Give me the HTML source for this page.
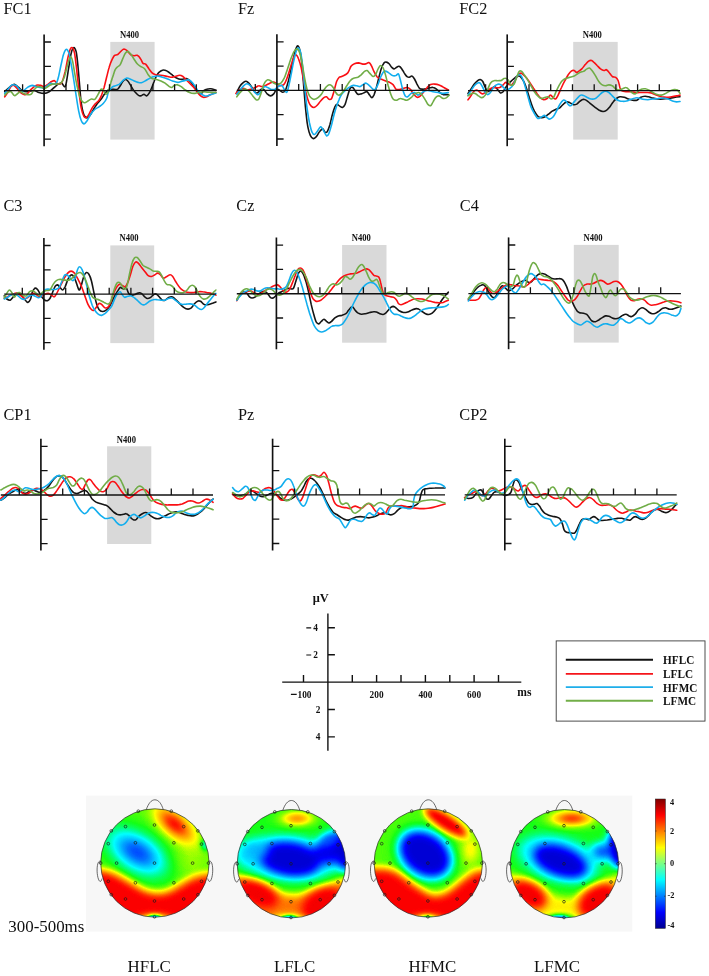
<!DOCTYPE html>
<html><head><meta charset="utf-8"><title>ERP figure</title>
<style>
html,body{margin:0;padding:0;background:#fff}
body{width:709px;height:976px;overflow:hidden;position:relative;font-family:"Liberation Serif",serif}
svg{will-change:transform;position:absolute;left:0;top:0;display:block}
text{font-family:"Liberation Serif",serif;fill:#111}
.lab{font-size:17.6px}
.n4{font-size:9.3px;font-weight:bold}
.ax{font-size:9.3px;font-weight:bold}
.leg{font-size:11.9px;font-weight:bold}
.cb{font-size:8.3px;font-weight:bold}
.bot{font-size:17.7px}
</style></head><body>
<svg width="709" height="976" viewBox="0 0 709 976">
<rect x="110.3" y="41.9" width="44.3" height="97.7" fill="#d9d9d9"/>
<rect x="573.2" y="41.9" width="44.5" height="97.7" fill="#d9d9d9"/>
<rect x="110.3" y="245.4" width="43.9" height="97.7" fill="#d9d9d9"/>
<rect x="342.1" y="245" width="44.4" height="97.7" fill="#d9d9d9"/>
<rect x="573.8" y="244.9" width="44.9" height="97.7" fill="#d9d9d9"/>
<rect x="107.1" y="446.3" width="44.2" height="97.7" fill="#d9d9d9"/>
<path d="M4.7 91.7C5.6 90.9 8.5 87.8 10.2 86.6C11.8 85.4 13 84.3 14.4 84.4C15.8 84.6 17.3 86.5 18.6 87.5C19.9 88.5 20.7 89.8 22 90.5C23.3 91.2 24.3 91.7 26.2 91.7C28.2 91.7 31.7 90.4 33.9 90.5C36 90.7 37.2 92.1 38.9 92.5C40.7 93 42.7 93.5 44.3 93.4C46 93.3 47.4 92.7 49.1 91.7C50.7 90.7 52.6 88.7 54.2 87.5C55.7 86.2 57.1 84.8 58.4 84.1C59.7 83.4 60.8 82.8 61.8 83.2C62.8 83.7 63.6 86.5 64.3 86.6C65 86.8 65.3 87 66 84.1C66.7 81.1 67.7 73.9 68.5 68.9C69.4 63.8 70.2 57.1 71.1 53.6C71.9 50.1 72.8 48 73.6 47.7C74.5 47.4 75.5 49 76.2 51.9C76.9 54.9 77.3 60.1 77.9 65.5C78.4 70.8 79 77.9 79.5 84.1C80.1 90.3 80.5 97.6 81.2 102.7C81.9 107.8 82.8 112 83.8 114.5C84.8 117.1 86 117.9 87.2 117.9C88.3 117.9 89.4 116.1 90.6 114.5C91.7 113 92.8 110.5 93.9 108.6C95.1 106.8 96.1 105.2 97.3 103.5C98.6 101.9 100.3 100.2 101.6 98.5C102.8 96.8 103.8 94.8 104.9 93.4C106.1 92 107.2 90.7 108.3 90C109.4 89.3 110.6 89.2 111.7 89.2C112.8 89.1 114.2 89.5 115.2 89.5C116.2 89.5 116.8 89.8 117.7 89.2C118.5 88.5 119.4 87 120.2 85.8C121.1 84.5 121.9 82.6 122.8 81.5C123.6 80.5 124.5 79.6 125.3 79.5C126.2 79.4 127 80.1 127.8 81C128.7 81.9 129.5 83.6 130.4 84.9C131.2 86.3 132.1 87.9 132.9 89.2C133.8 90.4 134.5 91.5 135.5 92.5C136.5 93.6 137.9 95.1 138.9 95.6C139.8 96.1 140.5 95.8 141.4 95.6C142.2 95.4 143.1 94.2 143.9 94.2C144.8 94.3 145.6 96.1 146.5 95.9C147.3 95.8 148.2 94.7 149 93.4C149.9 92.1 150.7 90.3 151.5 88.3C152.4 86.3 153.2 83.7 154.1 81.5C154.9 79.4 155.8 77.2 156.6 75.6C157.5 74.1 158.2 73.1 159.2 72.2C160.1 71.3 161.4 70.5 162.5 70.2C163.7 69.9 164.8 70.1 165.9 70.5C167.1 70.9 168.2 71.8 169.3 72.6C170.4 73.4 171.6 74.4 172.7 75.3C173.8 76.1 174.8 77 176.1 77.7C177.4 78.3 179 79.1 180.3 79.3C181.6 79.6 182.6 79.1 183.7 79C184.8 78.9 186.1 78.4 187.1 78.7C188.1 78.9 188.6 79.7 189.6 80.7C190.6 81.7 191.9 83.4 193 84.9C194.1 86.5 195.4 88.6 196.4 90C197.4 91.4 198.1 92.8 198.9 93.4C199.8 94 200.6 93.9 201.5 93.4C202.3 92.9 203.2 91.2 204 90.5C204.9 89.8 205.4 89.4 206.6 89.2C207.7 88.9 209.2 88.7 210.8 88.8C212.3 89 215 89.8 215.9 90" fill="none" stroke="#151515" stroke-width="1.6" stroke-linejoin="round" stroke-linecap="round"/>
<path d="M4.7 96.8C5.2 96.1 6.6 94.2 7.6 92.5C8.7 90.9 10 87.8 11 86.6C12 85.4 12.6 85 13.5 85.3C14.5 85.6 15.8 87.1 16.9 88.3C18.1 89.5 19 91.5 20.3 92.5C21.6 93.6 23.4 94.4 24.5 94.6C25.7 94.8 26 94.8 27.1 93.9C28.2 93 29.8 90.6 31.3 89.2C32.9 87.7 34.8 85.9 36.4 85.3C37.9 84.6 39.3 85.2 40.6 85.4C41.9 85.7 43.1 86.8 44.3 86.6C45.6 86.4 47 84.9 48.2 84.1C49.4 83.2 50.6 82.1 51.6 81.5C52.7 81 53.7 80.4 54.5 80.7C55.3 81 55.8 82.7 56.7 83.2C57.6 83.8 59.1 84.5 60.1 84.1C61.1 83.7 61.8 82.8 62.6 80.7C63.5 78.6 64.3 75.1 65.2 71.4C66 67.7 66.9 62.4 67.7 58.7C68.5 55 69.4 51.2 70.2 49.4C71 47.6 71.7 47.1 72.4 47.7C73.1 48.3 73.9 49.8 74.5 52.8C75.1 55.7 75.6 60.8 76.2 65.5C76.7 70.1 77.3 75.6 77.9 80.7C78.4 85.8 79 91.4 79.5 95.9C80.1 100.4 80.5 104.4 81.2 107.8C81.9 111.2 82.9 114.6 83.8 116.2C84.6 117.9 85.5 117.9 86.3 117.6C87.2 117.3 87.9 116.2 88.9 114.5C89.8 112.9 91.1 109.6 92.2 107.8C93.4 105.9 94.5 104.8 95.6 103.5C96.8 102.3 98 101.6 99 100.2C100 98.8 100.7 97.2 101.6 95.1C102.4 93 103.2 90.4 104.1 87.5C104.9 84.5 105.8 80.7 106.6 77.3C107.5 73.9 108.3 70 109.2 67.2C110 64.3 110.8 62.3 111.7 60.4C112.6 58.5 113.3 56.6 114.3 55.6C115.3 54.7 116.6 55.2 117.7 54.5C118.8 53.7 120 52 121.1 51.1C122.1 50.2 123 49.1 124 49C124.9 49 125.9 49.7 127 50.6C128.1 51.5 129.3 53.6 130.4 54.5C131.5 55.3 132.6 55.7 133.8 55.8C134.9 56 136 54.8 137.2 55.3C138.3 55.8 139.6 57.3 140.5 58.7C141.5 60 142.2 62.5 143.1 63.4C143.9 64.3 144.6 63.2 145.6 64.1C146.6 65 147.9 67.4 149 68.9C150.1 70.3 151.3 72.1 152.4 73.1C153.5 74.1 154.4 74.4 155.8 74.8C157.2 75.1 159.2 75.1 160.9 75.3C162.5 75.5 164.2 75.8 165.9 76.1C167.6 76.5 169.5 77.3 171 77.3C172.6 77.4 173.8 76.8 175.2 76.5C176.7 76.1 178.2 75.3 179.5 75.3C180.7 75.3 181.7 75.7 182.9 76.5C184 77.2 185.1 78.7 186.2 79.9C187.4 81 188.5 82.1 189.6 83.2C190.8 84.4 191.9 85.4 193 86.6C194.1 87.9 195.3 89.4 196.4 90.9C197.5 92.3 198.7 94 199.8 95.1C200.9 96.2 202 97 203.2 97.3C204.3 97.6 205.3 97.2 206.6 96.8C207.8 96.3 209.2 95.3 210.8 94.6C212.3 93.9 215 92.9 215.9 92.5" fill="none" stroke="#fa0f14" stroke-width="1.6" stroke-linejoin="round" stroke-linecap="round"/>
<path d="M4.7 93.4C5.4 92.6 7.3 90.2 8.5 88.8C9.6 87.4 10.6 85.7 11.8 85.1C13.1 84.5 14.8 84.8 16.1 85.4C17.3 86.1 18.3 88.3 19.5 89.2C20.6 90.1 21.4 91.2 22.8 90.9C24.3 90.5 26.4 88 27.9 87.1C29.5 86.2 30.7 85.5 32.2 85.4C33.6 85.4 34.8 86.2 36.4 86.6C37.9 87 40.1 87.6 41.5 87.8C42.8 88 43.2 88.3 44.3 87.8C45.5 87.3 47.2 85.7 48.2 84.9C49.3 84.2 49.8 83.4 50.8 83.2C51.8 83.1 53.2 84.2 54.2 84.1C55.1 83.9 56 83.5 56.7 82.4C57.4 81.3 57.7 80.1 58.4 77.3C59.1 74.5 60.1 69.3 60.9 65.5C61.8 61.7 62.6 57.1 63.5 54.5C64.4 51.8 65.4 49.5 66.3 49.4C67.3 49.2 68.3 51.2 69.1 53.6C69.8 56 70.3 59.5 71.1 63.8C71.8 68 72.8 73.6 73.6 79C74.5 84.4 75.3 90.6 76.2 95.9C77 101.3 77.9 107.1 78.7 111.2C79.5 115.3 80.3 118.4 81.2 120.5C82.1 122.6 83.1 123.9 84.1 123.9C85.1 123.9 86.1 122 87.2 120.5C88.2 118.9 89.3 116.4 90.6 114.5C91.8 112.7 93.4 110.7 94.8 109.5C96.2 108.2 97.6 107.9 99 106.9C100.4 105.9 102 105 103.2 103.5C104.5 102.1 105.8 100.3 106.6 98.5C107.5 96.6 107.5 94.4 108.3 92.5C109.2 90.7 110.6 88.6 111.7 87.5C112.8 86.3 113.9 86.3 115.2 85.8C116.4 85.2 118.1 84.9 119.4 84.1C120.7 83.2 121.6 81.7 122.8 80.7C123.9 79.7 125 78.5 126.2 78.2C127.3 77.8 128.3 78.2 129.5 78.7C130.8 79.1 132.4 80.1 133.8 80.7C135.2 81.3 136.7 82.1 138 82.4C139.3 82.7 140.1 83 141.4 82.7C142.7 82.4 144.2 81.5 145.6 80.7C147 79.9 148.4 78.9 149.9 78.2C151.3 77.5 152.7 76.8 154.1 76.5C155.5 76.1 156.9 76 158.3 76.1C159.7 76.3 161 76.8 162.5 77.3C164.1 77.8 165.9 78.4 167.6 79C169.3 79.6 171 80.5 172.7 81C174.4 81.6 176.2 82.4 177.8 82.4C179.3 82.4 180.7 81.5 182 81.2C183.3 80.9 184.3 80.6 185.4 80.4C186.5 80.1 187.8 79.7 188.8 79.9C189.8 80 190.3 80.6 191.3 81.5C192.3 82.5 193.6 84.2 194.7 85.8C195.8 87.3 197 89.4 198.1 90.9C199.2 92.3 200.3 93.4 201.5 94.2C202.6 95.1 203.7 95.7 204.9 95.9C206 96.2 207 95.9 208.2 95.6C209.5 95.3 211.2 94.4 212.5 93.9C213.7 93.4 215.3 93.1 215.9 92.9" fill="none" stroke="#12aeee" stroke-width="1.6" stroke-linejoin="round" stroke-linecap="round"/>
<path d="M4.7 95.1C5.2 94.7 6.6 93.1 7.6 92.5C8.7 92 9.9 91.2 11 91.7C12.1 92.2 13.4 95.2 14.4 95.6C15.4 96 15.9 94.9 16.9 94.2C17.9 93.6 19.2 91.8 20.3 91.7C21.4 91.6 22.4 92.9 23.7 93.4C25 93.9 26.7 94.4 27.9 94.6C29.2 94.7 30.3 95 31.3 94.2C32.3 93.5 32.7 91.3 33.9 90C35 88.7 36.7 87 38.1 86.6C39.5 86.2 41.3 87.1 42.3 87.5C43.4 87.8 43.2 89.1 44.3 88.8C45.5 88.5 47.7 86.6 49.1 85.8C50.4 85 51.2 84.4 52.5 84.1C53.7 83.8 55.3 84.2 56.7 84.1C58.1 83.9 59.7 84.4 60.9 83.2C62.2 82.1 63.3 80 64.3 77.3C65.3 74.6 66 70.3 66.9 67.2C67.7 64.1 68.7 60.4 69.4 58.7C70.1 57 70.5 56.4 71.1 57C71.7 57.6 72.2 59.5 72.8 62.1C73.3 64.6 73.8 68.3 74.5 72.2C75.2 76.2 76.2 81.8 77 85.8C77.9 89.7 78.7 93.3 79.5 95.9C80.4 98.5 81.2 100.2 82.1 101.3C82.9 102.5 83.6 102.8 84.6 102.7C85.6 102.6 86.9 101.6 88 101C89.1 100.4 90.3 99.3 91.4 99C92.5 98.7 93.7 100.1 94.8 99.3C95.9 98.5 97.2 95.9 98.2 94.2C99.2 92.6 99.9 90.2 100.7 89.5C101.6 88.8 102.4 89.2 103.2 90C104.1 90.8 104.9 94 105.8 94.2C106.6 94.5 107.5 93.7 108.3 91.7C109.2 89.7 110.1 84.8 110.9 82.4C111.6 80 111.9 79.4 112.6 77.3C113.3 75.2 114.3 71.4 115.2 69.7C116 67.9 116.8 67.7 117.7 66.8C118.5 66 119.4 66 120.2 64.6C121.1 63.3 121.9 60.6 122.8 58.7C123.6 56.8 124.5 54.5 125.3 53.3C126.2 52.1 127 51.4 127.8 51.4C128.7 51.5 129.4 52.4 130.4 53.6C131.4 54.8 132.6 57 133.8 58.7C134.9 60.4 136 62.5 137.2 63.8C138.3 65 139.3 65.5 140.5 66.3C141.8 67.2 143.5 67.4 144.8 68.9C146 70.3 147 73.2 148.2 74.8C149.3 76.3 150.3 77.4 151.5 78.2C152.8 78.9 154.2 78.9 155.8 79.3C157.3 79.8 159.3 80.4 160.9 81C162.4 81.7 163.7 82.3 165.1 83.2C166.5 84.2 168.2 85.9 169.3 86.6C170.4 87.3 171 87.7 171.9 87.5C172.7 87.2 173.4 85.7 174.4 85.3C175.4 84.8 176.7 84.7 177.8 84.9C178.9 85.2 179.9 85.8 181.2 86.6C182.4 87.5 184 89 185.4 90C186.8 91 188.2 92 189.6 92.5C191 93.1 192.4 93.4 193.9 93.4C195.3 93.4 196.5 92.8 198.1 92.5C199.6 92.3 201.5 91.8 203.2 91.7C204.9 91.6 206.1 92.1 208.2 92.2C210.4 92.3 214.6 92.5 215.9 92.5" fill="none" stroke="#70ad47" stroke-width="1.6" stroke-linejoin="round" stroke-linecap="round"/>
<path d="M236.8 92.5C237.3 91.4 239 87.5 240.2 85.8C241.3 84.1 242.6 83.2 243.5 82.4C244.5 81.6 245.2 81.1 246.1 81.2C246.9 81.3 247.6 81.9 248.6 82.9C249.6 83.9 250.9 85.9 252 87.5C253.1 89.1 254.4 91.7 255.4 92.5C256.4 93.4 256.9 93.1 257.9 92.5C258.9 92 260.3 89.7 261.3 89.2C262.3 88.7 262.9 88.7 263.9 89.5C264.8 90.3 266.1 92.8 267.2 93.9C268.4 95 269.5 95.9 270.6 95.9C271.7 95.9 272.7 95 273.7 93.9C274.7 92.8 275.6 89.8 276.5 89.2C277.4 88.5 278.1 89.5 279.1 90C280.1 90.5 281.5 92.1 282.5 92.2C283.5 92.3 284.2 92.2 285 90.9C285.9 89.5 286.7 86.9 287.5 84.1C288.4 81.3 289.2 77.6 290.1 73.9C290.9 70.3 291.8 65.9 292.6 62.1C293.5 58.3 294.4 53.8 295.2 51.1C296 48.4 296.7 46.4 297.4 46C298.1 45.6 298.8 46.7 299.4 48.5C300 50.4 300.5 52.8 301.1 57C301.7 61.2 302.2 67.4 302.8 73.9C303.3 80.4 303.9 89.2 304.5 95.9C305 102.7 305.6 109.3 306.2 114.5C306.7 119.8 307.2 123.7 307.9 127.2C308.6 130.8 309.5 133.8 310.4 135.7C311.3 137.6 312.3 138.4 313.3 138.6C314.3 138.7 315.2 137.7 316.3 136.6C317.4 135.4 318.6 132.7 319.7 131.5C320.8 130.2 321.8 128.8 322.8 128.9C323.7 129.1 324.4 131.9 325.1 132.3C325.9 132.7 326.5 132.7 327.3 131.5C328.1 130.2 329 127.5 329.9 124.7C330.7 121.9 331.6 117.5 332.4 114.5C333.2 111.6 334.2 108.6 334.9 106.9C335.7 105.2 336.2 104.5 337 104.4C337.8 104.3 338.7 105.6 339.7 106.1C340.6 106.6 341.7 107.7 342.6 107.4C343.5 107.2 344.2 106.3 345.1 104.4C345.9 102.5 346.8 98.6 347.6 95.9C348.5 93.3 349.3 89.7 350.2 88.3C351 86.9 351.8 87 352.7 87.5C353.5 87.9 354.4 89.7 355.2 90.9C356.1 92 356.8 93.7 357.8 94.2C358.8 94.7 360 94.2 361.2 93.9C362.3 93.6 363.6 92.9 364.5 92.5C365.5 92.2 366.2 91.3 367.1 91.7C367.9 92.1 368.8 94.1 369.6 95.1C370.4 96.1 371.1 97.6 371.8 97.6C372.5 97.6 373.1 96.8 373.9 95.1C374.6 93.4 375.5 90.4 376.4 87.5C377.2 84.5 378.1 80.6 378.9 77.3C379.8 74.1 380.6 70.4 381.5 68C382.3 65.6 383.2 63.9 384 62.9C384.9 61.9 385.7 61.9 386.5 62.1C387.4 62.2 388.2 62.9 389.1 63.8C389.9 64.6 390.8 66.3 391.6 67.2C392.5 68 393.3 68.9 394.2 68.9C395 68.9 395.9 67.6 396.7 67.2C397.5 66.7 398.4 66 399.2 66.3C400.1 66.6 400.9 67.7 401.8 68.9C402.6 70 403.5 71.8 404.3 73.1C405.2 74.4 406 75.8 406.9 76.5C407.7 77.2 408.5 77.4 409.4 77.3C410.2 77.2 411.1 75.7 411.9 76C412.8 76.2 413.6 77.7 414.5 79C415.3 80.4 416.2 82.5 417 84.1C417.9 85.6 418.6 87.5 419.5 88.3C420.5 89.2 421.8 89.1 422.9 89.2C424.1 89.2 425.2 89 426.3 88.8C427.4 88.6 428.6 88 429.7 87.8C430.8 87.6 432 87.2 433.1 87.5C434.2 87.7 435.3 88.3 436.5 89.2C437.6 90 438.7 91.6 439.9 92.5C441 93.4 441.8 94.2 443.2 94.6C444.7 94.9 447.5 94.6 448.3 94.6" fill="none" stroke="#151515" stroke-width="1.6" stroke-linejoin="round" stroke-linecap="round"/>
<path d="M235.9 93.4C236.5 92.8 238 90.9 239.3 90C240.6 89.2 242.3 88.3 243.5 88.3C244.8 88.3 245.7 89.9 246.9 90C248.2 90.1 249.7 89.6 251.2 89.2C252.6 88.7 254.1 88 255.4 87.5C256.7 86.9 257.6 85.9 258.8 85.8C259.9 85.6 261 86.7 262.2 86.6C263.3 86.6 264.3 86 265.5 85.4C266.8 84.9 268.4 83.8 269.8 83.2C271.2 82.7 272.7 81.9 274 82.1C275.3 82.2 276.3 83.5 277.4 84.1C278.5 84.7 279.6 85.8 280.8 85.8C281.9 85.8 283.2 85.2 284.2 84.1C285.1 83 285.9 81.1 286.7 79C287.5 76.9 288.4 74.1 289.2 71.4C290.1 68.7 290.9 65.5 291.8 62.9C292.6 60.4 293.6 57.5 294.3 56.2C295.1 54.8 295.6 54.5 296.3 55C297.1 55.4 297.8 56.7 298.5 58.7C299.3 60.7 300.2 63.5 301.1 67.2C301.9 70.8 302.8 76.3 303.6 80.7C304.5 85.1 305.3 89.9 306.2 93.4C307 96.9 307.9 99.7 308.7 101.9C309.5 104 310.3 105.2 311.2 106.1C312.1 107 313.1 107.6 314.1 107.4C315.1 107.3 316.1 106.3 317.2 105.2C318.2 104.2 319.4 102.3 320.6 101C321.7 99.7 322.9 98.3 323.9 97.6C324.9 96.9 325.6 96.5 326.5 96.8C327.3 97.1 328.2 99 329 99.3C329.9 99.6 330.7 99.9 331.6 98.5C332.4 97.1 333.2 93.7 334.1 90.9C334.9 88 335.8 83.8 336.6 81.5C337.5 79.3 338.3 78.2 339.2 77.3C340 76.5 340.3 77.2 341.7 76.5C343.1 75.8 346.1 74.8 347.6 73.1C349.2 71.4 349.9 67.9 351 66.3C352.1 64.8 353.1 64.3 354.4 63.8C355.7 63.2 357.2 62.9 358.6 62.9C360 63 361.6 64 362.8 64.1C364.1 64.3 365.2 64 366.2 63.8C367.2 63.5 367.9 62.3 368.8 62.6C369.6 62.9 370.5 64 371.3 65.5C372.2 66.9 372.9 69.5 373.9 71.4C374.8 73.3 376 75.6 377.2 77C378.5 78.3 380.1 78.7 381.5 79.3C382.9 80 384.3 80.5 385.7 81C387.1 81.5 388.7 81.7 389.9 82.4C391.2 83 392.3 83.8 393.3 84.9C394.3 86.1 394.9 88.4 395.9 89.2C396.8 89.9 398 89.6 399.2 89.5C400.5 89.4 402.2 88.7 403.5 88.3C404.7 88 405.7 87.3 406.9 87.5C408 87.6 409.1 88 410.2 89.2C411.4 90.3 412.5 92.9 413.6 94.2C414.8 95.6 415.9 97 417 97.3C418.1 97.6 419.3 96.9 420.4 95.9C421.5 95 422.7 93.1 423.8 91.7C424.9 90.3 426 88.7 427.2 87.5C428.3 86.3 429.3 85 430.6 84.4C431.8 83.9 433.4 84 434.8 84.1C436.2 84.2 437.6 84.4 439 84.9C440.4 85.4 441.7 86.3 443.2 87.1C444.8 88 447.5 89.5 448.3 90" fill="none" stroke="#fa0f14" stroke-width="1.6" stroke-linejoin="round" stroke-linecap="round"/>
<path d="M236.8 94.2C237.3 93.5 239 91.4 240.2 90C241.3 88.6 242.4 86.8 243.5 85.8C244.7 84.7 245.8 83.7 246.9 83.7C248.1 83.7 249.2 84.6 250.3 85.8C251.4 87 252.6 89.4 253.7 90.9C254.8 92.3 256.1 94.2 257.1 94.6C258.1 95 258.8 94.3 259.6 93.4C260.5 92.5 261.3 90.3 262.2 89.2C263 88 263.7 86.8 264.7 86.6C265.7 86.4 267 87.3 268.1 87.8C269.2 88.3 270.3 89.3 271.5 89.5C272.6 89.7 273.7 89.6 274.9 89.2C276 88.7 277.1 87.3 278.2 86.6C279.4 86 280.6 84.8 281.6 85.3C282.6 85.7 283.3 87.9 284.2 89.2C285 90.4 286 92.8 286.7 92.5C287.4 92.3 287.7 90.3 288.4 87.5C289.1 84.6 290.1 79.9 290.9 75.6C291.8 71.4 292.6 66 293.5 62.1C294.3 58.1 295.2 54.3 296 51.9C296.8 49.5 297.3 47.8 298 47.7C298.7 47.6 299.6 49 300.2 51.1C300.9 53.2 301.4 56.3 301.9 60.4C302.5 64.5 303.1 70.3 303.6 75.6C304.2 81 304.8 87.2 305.3 92.5C305.9 97.9 306.3 102.7 307 107.8C307.7 112.9 308.7 118.9 309.5 123C310.4 127.1 311.2 130.4 312.1 132.3C312.9 134.2 313.8 134.7 314.6 134.5C315.5 134.4 316.2 132.8 317.2 131.5C318.2 130.2 319.6 127 320.6 126.7C321.5 126.5 322.1 128.3 323.1 129.8C324.1 131.3 325.5 135.1 326.5 135.7C327.5 136.3 328.2 135 329 133.2C329.9 131.3 330.7 127.8 331.6 124.7C332.4 121.6 333.2 117.7 334.1 114.5C334.9 111.4 335.8 108.6 336.6 106.1C337.5 103.5 338.3 101.3 339.2 99.3C340 97.3 340.4 95.9 341.7 94.2C343 92.5 345.4 90.4 346.8 89.2C348.2 87.9 349 87.2 350.2 86.6C351.3 86 352.4 85.6 353.5 85.4C354.7 85.3 355.8 85.6 356.9 85.8C358.1 86 359.2 86.9 360.3 86.6C361.4 86.3 362.7 84.6 363.7 84.1C364.7 83.5 365.2 83 366.2 83.2C367.2 83.5 368.5 84.8 369.6 85.8C370.7 86.8 372 88.6 373 89.2C374 89.7 374.7 90 375.5 89.2C376.4 88.3 377.2 86.1 378.1 84.1C378.9 82.1 379.8 79.3 380.6 77.3C381.5 75.3 382.3 73.3 383.2 72.2C384 71.2 384.7 70.9 385.7 71.1C386.7 71.2 388 72.3 389.1 73.1C390.2 73.8 391.3 75.2 392.5 75.6C393.6 76 394.9 75.9 395.9 75.6C396.8 75.3 397.7 73.4 398.4 73.9C399.1 74.5 399.4 76.5 400.1 79C400.8 81.5 401.8 86.3 402.6 89.2C403.5 92 404.3 94.7 405.2 95.9C406 97.2 406.7 97.2 407.7 96.8C408.7 96.4 410 94.1 411.1 93.4C412.2 92.7 413.3 92.3 414.5 92.5C415.6 92.8 416.7 94.9 417.9 95.1C419 95.2 420.1 94.1 421.2 93.4C422.4 92.7 423.5 91.3 424.6 90.9C425.8 90.4 426.6 90.4 428 90.5C429.4 90.7 431.4 91.4 433.1 91.7C434.8 92 436.5 92.3 438.2 92.5C439.9 92.8 441.6 93.4 443.2 93.4C444.9 93.4 447.5 92.7 448.3 92.5" fill="none" stroke="#12aeee" stroke-width="1.6" stroke-linejoin="round" stroke-linecap="round"/>
<path d="M236.8 96.8C237.2 96.2 238.3 94.5 239.3 93.4C240.3 92.3 241.6 90.7 242.7 90C243.8 89.3 245 88.9 246.1 89.2C247.2 89.4 248.3 90.6 249.5 91.7C250.6 92.8 251.7 94.6 252.8 95.9C254 97.3 255.2 99.1 256.2 99.7C257.2 100.2 257.9 100.2 258.8 99C259.6 97.8 260.5 95 261.3 92.5C262.2 90.1 262.9 86.2 263.9 84.1C264.8 82 266.1 80.4 267.2 79.9C268.4 79.3 269.5 80.1 270.6 80.7C271.7 81.3 272.9 82.7 274 83.2C275.1 83.8 276.3 84.1 277.4 84.1C278.5 84.1 279.6 84.2 280.8 83.2C281.9 82.2 283 80.6 284.2 78.2C285.3 75.8 286.4 72.1 287.5 68.9C288.7 65.6 289.8 61.7 290.9 58.7C292.1 55.7 293.3 52.7 294.3 51.1C295.3 49.4 296 48.7 296.9 48.9C297.7 49 298.5 49.7 299.4 51.9C300.2 54.1 301.1 57.8 301.9 62.1C302.8 66.3 303.6 72.8 304.5 77.3C305.3 81.8 306.2 86.1 307 89.2C307.9 92.3 308.7 94.4 309.5 95.9C310.4 97.5 311.2 97.9 312.1 98.5C312.9 99 313.6 99.5 314.6 99.3C315.6 99.2 316.9 98.5 318 97.6C319.1 96.8 320.4 95.5 321.4 94.2C322.4 93 322.9 91.4 323.9 90C324.9 88.6 326.2 86.6 327.3 85.8C328.4 84.9 329.7 84.6 330.7 84.9C331.7 85.2 332.4 86.2 333.2 87.5C334.1 88.7 334.9 91.3 335.8 92.5C336.6 93.8 337.5 94.8 338.3 95.1C339.2 95.4 339.9 95.1 340.9 94.2C341.8 93.4 343.3 91.4 344.2 90C345.2 88.6 345.8 87.3 346.8 85.8C347.8 84.2 349 82 350.2 80.7C351.3 79.4 352.3 78.7 353.5 78.2C354.8 77.6 356.5 77.9 357.8 77.3C359 76.7 360 75.8 361.2 74.8C362.3 73.8 363.6 72.1 364.5 71.4C365.5 70.7 366.2 70.3 367.1 70.5C367.9 70.8 368.6 72.1 369.6 73.1C370.6 74.1 372 76.2 373 76.5C374 76.7 374.7 76 375.5 74.8C376.4 73.5 377.2 70.4 378.1 68.9C378.9 67.3 379.8 65.6 380.6 65.5C381.5 65.3 382.3 66.3 383.2 68C384 69.7 384.9 72.7 385.7 75.6C386.5 78.6 387.4 82.7 388.2 85.8C389.1 88.9 389.9 92 390.8 94.2C391.6 96.5 392.3 98.3 393.3 99.3C394.3 100.3 395.6 100.3 396.7 100.2C397.8 100 399 98.6 400.1 98.5C401.2 98.3 402.3 99 403.5 99.3C404.6 99.6 405.6 100.4 406.9 100.2C408.1 99.9 409.8 98.6 411.1 97.6C412.4 96.6 413.2 95.1 414.5 94.2C415.7 93.4 417.4 92.4 418.7 92.5C420 92.7 421 93.8 422.1 95.1C423.2 96.4 424.5 98.6 425.5 100.2C426.5 101.7 427.2 103.5 428 104.4C428.9 105.3 429.7 106.2 430.6 105.7C431.4 105.3 432.2 103.2 433.1 101.9C433.9 100.5 434.6 98.6 435.6 97.6C436.6 96.6 437.7 95.8 439 95.9C440.3 96.1 442 98.2 443.2 98.5C444.5 98.8 445.6 98.2 446.6 97.6C447.6 97.1 448.7 95.5 449.2 95.1" fill="none" stroke="#70ad47" stroke-width="1.6" stroke-linejoin="round" stroke-linecap="round"/>
<path d="M468 93.4C468.5 92.7 469.9 90.7 470.9 89.2C472 87.6 473.2 85.5 474.3 84.1C475.4 82.7 476.7 81.5 477.7 80.7C478.7 79.9 479.4 79.4 480.2 79.5C481.1 79.7 481.9 80.2 482.8 81.5C483.6 82.9 484.5 85.8 485.3 87.5C486.2 89.2 486.9 91.4 487.8 91.7C488.8 92 490.1 90 491.2 89.2C492.4 88.3 493.5 86.5 494.6 86.6C495.7 86.8 497 89 498 90C499 91.1 499.7 92.6 500.5 92.9C501.4 93.2 502.2 92.6 503.1 91.7C503.9 90.8 504.6 88.9 505.6 87.5C506.6 86.1 507.7 84.6 509 83.2C510.3 81.9 512 80.5 513.2 79.3C514.5 78.2 515.6 77 516.6 76.5C517.6 75.9 518.3 75.7 519.2 76C520 76.2 520.9 77.1 521.7 78.2C522.5 79.2 523.4 80.6 524.2 82.4C525.1 84.2 525.9 86.6 526.8 89.2C527.6 91.7 528.5 94.9 529.3 97.6C530.2 100.3 531 103 531.9 105.2C532.7 107.5 533.4 109.3 534.4 111.2C535.4 113 536.7 115.2 537.8 116.2C538.9 117.3 540 117.5 541.2 117.6C542.3 117.7 543.4 117.6 544.5 117.1C545.7 116.6 546.7 115.5 547.9 114.5C549.2 113.6 550.8 112.1 552.2 111.2C553.6 110.3 555.1 109.7 556.4 109.1C557.7 108.6 558.7 108.6 559.8 107.8C560.9 107 562 105.4 563.2 104.4C564.3 103.4 565.4 102.1 566.6 101.9C567.7 101.6 568.8 102.2 569.9 102.7C571.1 103.2 572.2 104.5 573.3 104.7C574.4 105 575.6 104.7 576.7 104.1C577.8 103.4 579 101.8 580.2 101C581.3 100.2 582.4 99.4 583.5 99.3C584.7 99.3 585.8 100 586.9 100.7C588.1 101.4 589 102.5 590.3 103.5C591.6 104.6 593.1 105.9 594.5 106.9C596 108 597.4 109.2 598.8 110C600.2 110.7 601.7 111.4 603 111.5C604.3 111.6 605.3 111.1 606.4 110.3C607.5 109.6 608.6 108.3 609.8 106.9C610.9 105.5 612 103.3 613.2 101.9C614.3 100.4 615.4 99.3 616.5 98.5C617.7 97.6 618.7 97 619.9 96.8C621.2 96.6 622.8 96.9 624.2 97.3C625.6 97.7 627 98.5 628.4 99C629.8 99.5 631.2 100 632.6 100.2C634 100.4 635.6 100.6 636.9 100.2C638.1 99.7 639 98.3 640.2 97.6C641.5 97 643.1 96.4 644.5 96.3C645.9 96.1 647.3 96.5 648.7 96.8C650.1 97.1 651.4 97.8 652.9 98.1C654.5 98.5 656.3 98.8 658 99C659.7 99.1 661.4 99.1 663.1 99C664.8 98.9 666.5 98.7 668.2 98.5C669.9 98.2 671.3 97.9 673.2 97.6C675.2 97.3 678.9 96.9 680 96.8" fill="none" stroke="#151515" stroke-width="1.6" stroke-linejoin="round" stroke-linecap="round"/>
<path d="M468 99.8C468.5 99.2 470 97.3 470.9 95.9C471.8 94.6 472.5 92.7 473.5 91.7C474.4 90.7 475.7 89.9 476.8 90C478 90.1 479.2 91.9 480.2 92.5C481.2 93.2 481.8 94 482.8 93.9C483.8 93.8 485 92.5 486.2 91.7C487.3 90.9 488.4 89.9 489.5 89.2C490.7 88.5 491.8 87.7 492.9 87.5C494.1 87.2 495.2 87.8 496.3 87.8C497.4 87.8 498.6 87.9 499.7 87.5C500.8 87 502.1 85.8 503.1 84.9C504.1 84.1 504.8 82.5 505.6 82.4C506.5 82.2 507.2 83.7 508.2 84.1C509.1 84.5 510.4 85.5 511.5 84.9C512.7 84.4 513.8 82.4 514.9 80.7C516.1 79 517.3 76 518.3 74.8C519.3 73.5 520 73.1 520.9 73.1C521.7 73.1 522.4 73.9 523.4 74.8C524.4 75.6 525.6 76.7 526.8 78.2C527.9 79.6 529 81.5 530.2 83.2C531.3 84.9 532.4 86.6 533.5 88.3C534.7 90 535.8 91.8 536.9 93.4C538.1 94.9 539.2 96.6 540.3 97.6C541.4 98.7 542.6 99.5 543.7 99.7C544.8 99.8 546 99.2 547.1 98.5C548.2 97.7 549.5 95.2 550.5 95.1C551.5 94.9 552.2 97 553 97.6C553.9 98.3 554.7 99.4 555.6 99C556.4 98.6 557.1 97 558.1 95.1C559.1 93.2 560.3 89.9 561.5 87.5C562.6 85.1 563.7 82.8 564.9 80.7C566 78.6 567.1 76.4 568.2 74.8C569.4 73.1 570.6 71.6 571.6 70.9C572.6 70.2 573.3 70.3 574.2 70.5C575 70.8 576 72.4 576.7 72.6C577.4 72.7 577.6 72 578.5 71.4C579.3 70.8 580.7 70 581.8 68.9C583 67.7 584.1 65.9 585.2 64.6C586.4 63.3 587.6 61.9 588.6 61.2C589.6 60.5 590.3 60.2 591.2 60.4C592 60.5 592.7 61.2 593.7 62.1C594.7 62.9 596 64.3 597.1 65.5C598.2 66.6 599.3 68 600.5 68.9C601.6 69.7 602.9 70.4 603.9 70.5C604.8 70.7 605.5 69.4 606.4 69.7C607.2 70 607.9 71.1 608.9 72.2C609.9 73.4 611.2 75.6 612.3 76.5C613.4 77.3 614.7 76.6 615.7 77.3C616.7 78 617.5 79 618.2 80.7C618.9 82.4 619.4 85.8 619.9 87.5C620.5 89.1 620.6 89.8 621.6 90.5C622.6 91.2 624.3 91.5 625.9 91.7C627.4 91.9 629.2 91.6 630.9 91.7C632.6 91.8 634.3 92.4 636 92.5C637.7 92.7 639.4 92.5 641.1 92.5C642.8 92.5 644.5 92.5 646.2 92.5C647.9 92.6 649.5 92.5 651.2 92.9C652.9 93.3 654.6 94.4 656.3 95.1C658 95.7 659.7 96.4 661.4 96.8C663.1 97.1 664.8 97.3 666.5 97.3C668.2 97.3 669.9 97 671.6 96.8C673.2 96.6 675.2 96.2 676.6 95.9C678 95.6 679.4 95.2 680 95.1" fill="none" stroke="#fa0f14" stroke-width="1.6" stroke-linejoin="round" stroke-linecap="round"/>
<path d="M468 95.1C468.5 94.4 469.9 92.4 470.9 90.9C472 89.3 473.2 87.1 474.3 85.8C475.4 84.4 476.7 83.3 477.7 82.9C478.7 82.5 479.4 82.5 480.2 83.2C481.1 84 481.9 85.9 482.8 87.5C483.6 89 484.5 91.4 485.3 92.5C486.2 93.7 487 94.6 487.8 94.6C488.7 94.6 489.4 93.8 490.4 92.5C491.4 91.3 492.6 88.5 493.8 87.1C494.9 85.8 496 84.8 497.2 84.4C498.3 84 499.6 84.1 500.5 84.6C501.5 85 502.1 86.2 503.1 87.1C504.1 88 505.3 89.8 506.5 90C507.6 90.2 508.7 89.2 509.9 88.3C511 87.5 512.2 86.5 513.2 84.9C514.2 83.4 514.9 80.7 515.8 79C516.6 77.3 517.5 75.3 518.3 74.8C519.2 74.2 520 74.6 520.9 75.6C521.7 76.6 522.5 78.4 523.4 80.7C524.2 83 525.1 86.2 525.9 89.2C526.8 92.1 527.6 95.5 528.5 98.5C529.3 101.4 530 104.4 531 106.9C532 109.5 533.3 111.8 534.4 113.7C535.5 115.6 536.7 117.9 537.8 118.4C538.9 119 540 117.6 541.2 117.1C542.3 116.6 543.6 115.3 544.5 115.4C545.5 115.5 546.2 117 547.1 117.6C547.9 118.2 548.6 119.2 549.6 119.1C550.6 119 551.9 118.4 553 117.1C554.1 115.8 555.3 113.3 556.4 111.2C557.5 109 558.7 106.2 559.8 104.4C560.9 102.6 562.2 100.7 563.2 100.2C564.2 99.6 564.9 100.3 565.7 101C566.6 101.7 567.4 103.6 568.2 104.4C569.1 105.2 569.8 106.2 570.8 105.7C571.8 105.3 572.6 103.6 574.2 101.9C575.7 100.1 578.6 96.5 580.2 95.4C581.7 94.4 582.4 95.3 583.5 95.6C584.7 95.9 585.7 96.7 586.9 97.3C588.2 97.8 589.7 98.8 591.2 99C592.6 99.2 594.1 99 595.4 98.5C596.7 97.9 597.6 96.6 598.8 95.6C599.9 94.6 601 93.3 602.2 92.5C603.3 91.8 604.4 91.2 605.5 91.2C606.7 91.2 607.8 91.8 608.9 92.5C610.1 93.3 611.2 94.9 612.3 95.9C613.4 97 614.6 98.2 615.7 99C616.8 99.8 618 100.3 619.1 100.7C620.2 101.1 621.2 101.3 622.5 101.3C623.7 101.4 625.3 101.3 626.7 101C628.1 100.7 629.5 99.8 630.9 99.3C632.3 98.8 633.9 98.2 635.2 98C636.4 97.7 637.3 97.7 638.5 98C639.8 98.2 641.2 99 642.8 99.3C644.3 99.6 646.2 99.7 647.9 99.7C649.5 99.6 651.2 99.2 652.9 99C654.6 98.8 656.3 98.6 658 98.5C659.7 98.3 661.4 97.9 663.1 98C664.8 98 666.6 98.5 668.2 99C669.7 99.5 671 100.5 672.4 101C673.8 101.5 675.4 101.8 676.6 101.9C677.9 101.9 679.4 101.6 680 101.5" fill="none" stroke="#12aeee" stroke-width="1.6" stroke-linejoin="round" stroke-linecap="round"/>
<path d="M468 95.9C468.7 95.5 470.6 93.8 471.8 93.4C473 93 474 93 475.2 93.4C476.3 93.8 477.4 95.2 478.5 95.9C479.7 96.6 480.8 97.8 481.9 97.6C483.1 97.5 484.3 96.5 485.3 95.1C486.3 93.7 487 91.1 487.8 89.2C488.7 87.2 489.4 84.6 490.4 83.2C491.4 81.8 492.5 81.1 493.8 80.7C495 80.3 496.7 80.8 498 80.7C499.3 80.6 500.3 80.8 501.4 80.4C502.5 79.9 503.6 78.2 504.8 78.2C505.9 78.1 507.2 78.7 508.2 79.9C509.1 81 509.7 84.2 510.7 84.9C511.7 85.6 513.1 85.4 514.1 84.1C515.1 82.8 515.8 79.4 516.6 77.3C517.5 75.2 518.3 72.4 519.2 71.4C520 70.4 520.9 70.8 521.7 71.4C522.5 72 523.3 73.4 524.2 74.8C525.2 76.2 526.5 78 527.6 79.9C528.8 81.7 529.9 83.8 531 85.8C532.1 87.8 533.3 90 534.4 91.7C535.5 93.4 536.7 94.8 537.8 95.9C538.9 97.1 540 98.2 541.2 98.5C542.3 98.8 543.4 97.9 544.5 97.6C545.7 97.3 546.8 96.6 547.9 96.8C549.1 97 550.3 99 551.3 99C552.3 99 553 98.1 553.9 96.8C554.7 95.4 555.4 93 556.4 90.9C557.4 88.7 558.7 85.9 559.8 84.1C560.9 82.2 562 80.8 563.2 79.9C564.3 78.9 565.3 78.6 566.6 78.2C567.8 77.7 569.4 77.4 570.8 77C572.2 76.6 573.5 76.4 575 75.6C576.6 74.8 578.7 72.9 580.2 72.2C581.6 71.5 582.4 72 583.5 71.4C584.7 70.8 585.9 69.4 586.9 68.9C587.9 68.3 588.6 67.7 589.5 68C590.3 68.3 591 69.3 592 70.5C593 71.8 594.3 73.8 595.4 75.6C596.5 77.5 597.6 80 598.8 81.5C599.9 83.1 601 84.2 602.2 84.9C603.3 85.6 604.4 85.8 605.5 85.8C606.7 85.8 607.8 84.9 608.9 84.9C610.1 84.9 611.2 85.1 612.3 85.8C613.4 86.4 614.6 88.1 615.7 88.8C616.8 89.5 618 90 619.1 90C620.2 90 621.3 89.2 622.5 88.8C623.6 88.4 624.9 87.4 625.9 87.5C626.8 87.5 627.4 88.3 628.4 89.2C629.4 90 630.6 91.8 631.8 92.5C632.9 93.3 634.2 94 635.2 93.9C636.1 93.8 636.7 92.5 637.7 91.7C638.7 90.9 639.8 89.6 641.1 89.2C642.4 88.7 644 88.7 645.3 88.8C646.6 89 647.4 89.4 648.7 90C650 90.6 651.5 91.8 652.9 92.5C654.3 93.3 655.8 94.2 657.2 94.6C658.6 95 660 95.3 661.4 95.1C662.8 94.9 664.2 94.1 665.6 93.4C667 92.7 668.4 91.5 669.9 90.9C671.3 90.2 672.8 89.6 674.1 89.5C675.4 89.4 676.5 89.4 677.5 90C678.5 90.7 679.6 92.8 680 93.4" fill="none" stroke="#70ad47" stroke-width="1.6" stroke-linejoin="round" stroke-linecap="round"/>
<path d="M4.2 295.9C4.7 296.4 5.8 298.3 6.8 299C7.8 299.7 9.2 300.4 10.2 300.2C11.1 299.9 11.8 298.6 12.7 297.6C13.5 296.6 14.2 294.9 15.2 294.2C16.2 293.5 17.5 293.1 18.6 293.4C19.7 293.7 20.9 294.8 22 295.9C23.1 297.1 24.4 299.1 25.4 300.2C26.4 301.2 27.1 302.5 27.9 302.4C28.8 302.2 29.8 301 30.5 299.3C31.2 297.7 31.5 294.4 32.2 292.5C32.9 290.7 33.9 288.9 34.7 288.3C35.5 287.8 36.4 288.3 37.2 289.2C38.1 290 38.9 292 39.8 293.4C40.6 294.8 41.5 296.5 42.3 297.6C43.2 298.8 44 299.7 44.9 300.2C45.7 300.7 46.5 301 47.4 300.7C48.2 300.4 49.1 299.8 49.9 298.5C50.8 297.1 51.6 294.5 52.5 292.5C53.3 290.6 54.2 287.9 55 286.6C55.9 285.4 56.7 284.8 57.5 284.9C58.4 285.1 59.2 286.6 60.1 287.5C60.9 288.3 61.8 290.1 62.6 290C63.5 289.9 64.3 288.3 65.2 286.6C66 284.9 66.9 281.7 67.7 279.9C68.5 278 69.4 276.4 70.2 275.6C71.1 274.9 71.9 274.6 72.8 275.3C73.6 276 74.5 277.8 75.3 279.9C76.2 281.9 77.2 285.8 77.9 287.5C78.6 289.2 79 290.3 79.5 290C80.1 289.7 80.5 288 81.2 285.8C81.9 283.5 82.9 278.7 83.8 276.5C84.6 274.3 85.5 272.9 86.3 272.6C87.2 272.2 88 272.9 88.9 274.3C89.7 275.6 90.6 277.7 91.4 280.7C92.2 283.7 93.1 288.7 93.9 292.5C94.8 296.4 95.6 300.7 96.5 303.5C97.3 306.4 98 308.1 99 309.5C100 310.8 101.3 311.4 102.4 311.5C103.5 311.6 104.7 311.1 105.8 310.3C106.9 309.6 107.7 309.2 109.2 306.9C110.6 304.7 112.9 299.5 114.3 296.8C115.7 294.1 116.7 292.4 117.7 290.9C118.7 289.3 119.5 287.9 120.2 287.5C120.9 287 121.2 288 121.9 288.3C122.6 288.6 123.8 289.3 124.5 289.2C125.2 289 125.5 286.8 126.2 287.5C126.9 288.2 127.7 292.1 128.7 293.4C129.7 294.7 131 294.9 132.1 295.1C133.2 295.2 134.3 294.6 135.5 294.2C136.6 293.9 137.9 293 138.9 292.9C139.8 292.7 140.4 292.7 141.4 293.4C142.4 294 143.8 295.9 144.8 296.8C145.8 297.6 146.3 298.4 147.3 298.5C148.3 298.6 149.6 298 150.7 297.3C151.8 296.6 153.1 294.7 154.1 294.2C155.1 293.7 155.8 293.8 156.6 294.2C157.5 294.7 158.2 295.8 159.2 296.8C160.1 297.8 161.6 299.6 162.5 300.2C163.5 300.7 164.1 300.6 165.1 300.2C166.1 299.7 167.3 298.2 168.5 297.6C169.6 297.1 170.7 296.6 171.9 296.8C173 297 174 297.8 175.2 299C176.5 300.1 178.1 302.1 179.5 303.5C180.9 305 182.3 306.5 183.7 307.4C185.1 308.4 186.7 309.1 187.9 309.1C189.2 309.2 190.2 308.7 191.3 307.8C192.4 306.8 193.6 304.7 194.7 303.5C195.8 302.4 197.1 301.4 198.1 301C199.1 300.6 199.6 300.8 200.6 301.3C201.6 301.9 202.9 303.8 204 304.4C205.1 305 206.1 304.9 207.4 304.7C208.7 304.6 210.2 304 211.6 303.5C213 303.1 215.2 302.1 215.9 301.9" fill="none" stroke="#151515" stroke-width="1.6" stroke-linejoin="round" stroke-linecap="round"/>
<path d="M4.2 298.5C4.8 298.2 6.5 297.3 7.6 296.8C8.7 296.2 9.9 295.6 11 295.1C12.1 294.5 13.3 293.7 14.4 293.4C15.5 293.1 16.6 293 17.8 293.4C18.9 293.8 20 295.1 21.2 295.9C22.3 296.8 23.4 298.2 24.5 298.5C25.7 298.8 26.8 298.3 27.9 297.6C29.1 296.9 30.2 294.9 31.3 294.2C32.4 293.5 33.6 293.1 34.7 293.4C35.8 293.7 37 295.5 38.1 295.9C39.2 296.4 40.3 296.2 41.5 295.9C42.6 295.6 43.7 294.7 44.9 294.2C46 293.8 47.1 293.3 48.2 293.4C49.4 293.5 50.6 294.5 51.6 295.1C52.6 295.6 53.3 297.1 54.2 296.8C55 296.5 55.9 294.8 56.7 293.4C57.5 292 58.4 290 59.2 288.3C60.1 286.6 60.9 284.9 61.8 283.2C62.6 281.5 63.3 279.9 64.3 278.2C65.3 276.5 66.6 274.3 67.7 273.1C68.8 271.9 70 271.1 71.1 271.1C72.2 271.1 73.3 271.8 74.5 273.1C75.6 274.4 76.7 276.9 77.9 279C79 281.1 80.1 283.1 81.2 285.8C82.4 288.5 83.5 292 84.6 295.1C85.8 298.2 86.9 302 88 304.4C89.1 306.8 90.4 308.5 91.4 309.5C92.4 310.5 93.1 310.7 93.9 310.3C94.8 309.9 95.6 308.1 96.5 306.9C97.3 305.8 98.2 304 99 303.5C99.9 303.1 100.6 303.7 101.6 304.4C102.5 305.1 103.8 307.4 104.9 307.8C106.1 308.2 107.3 307.9 108.3 306.9C109.3 305.9 110.1 303.7 110.9 301.9C111.6 300 111.9 297.9 112.6 295.9C113.3 294 114.3 291.7 115.2 290C116 288.3 116.8 286.8 117.7 285.8C118.5 284.8 119.4 284.1 120.2 284.1C121.1 284.1 121.9 285.4 122.8 285.8C123.6 286.2 124.5 287.2 125.3 286.6C126.2 286.1 127 284.4 127.8 282.4C128.7 280.4 129.5 277.5 130.4 274.8C131.2 272.1 132.1 268.4 132.9 266.3C133.8 264.2 134.6 262.6 135.5 262.1C136.3 261.5 137 262.1 138 262.9C139 263.8 140.3 265.7 141.4 267.2C142.5 268.6 143.6 270 144.8 271.4C145.9 272.8 147 274.8 148.2 275.6C149.3 276.5 150.4 276.6 151.5 276.5C152.7 276.3 153.9 275.3 154.9 274.8C155.9 274.2 156.6 273.2 157.5 273.1C158.3 273 159 273.4 160 274.3C161 275.1 162.3 277.8 163.4 278.2C164.5 278.5 165.6 277 166.8 276.5C167.9 275.9 169.2 274.8 170.2 274.8C171.1 274.8 171.9 275.5 172.7 276.5C173.5 277.5 174.4 279.3 175.2 280.7C176.1 282.1 176.8 283.5 177.8 284.9C178.8 286.3 179.9 288 181.2 289.2C182.4 290.3 184 291.1 185.4 291.7C186.8 292.3 188.2 292.4 189.6 292.5C191 292.7 192.4 292.7 193.9 292.5C195.3 292.4 196.7 291.8 198.1 291.7C199.5 291.6 200.9 291.6 202.3 291.7C203.7 291.8 205 292.3 206.6 292.5C208.1 292.8 210.1 293 211.6 293.4C213.2 293.8 215.2 294.8 215.9 295.1" fill="none" stroke="#fa0f14" stroke-width="1.6" stroke-linejoin="round" stroke-linecap="round"/>
<path d="M4.2 299C4.8 298.7 6.5 297.9 7.6 297.3C8.7 296.6 9.9 295.6 11 295.1C12.1 294.6 13.3 294.2 14.4 294.2C15.5 294.3 16.6 294.9 17.8 295.6C18.9 296.3 20 297.8 21.2 298.5C22.3 299.1 23.4 299.6 24.5 299.3C25.7 299 26.8 297.5 27.9 296.8C29.1 296.1 30.2 295.2 31.3 295.1C32.4 294.9 33.6 295.5 34.7 295.9C35.8 296.4 37.1 297.5 38.1 297.6C39.1 297.8 39.8 297.6 40.6 296.8C41.5 295.9 42.3 293.8 43.2 292.5C44 291.3 44.7 290.1 45.7 289.5C46.7 288.9 48 289.2 49.1 289.2C50.2 289.2 51.3 289.5 52.5 289.5C53.6 289.5 54.7 289.5 55.9 289.2C57 288.8 58.3 288.7 59.2 287.5C60.2 286.2 60.9 283.5 61.8 281.5C62.6 279.6 63.5 276.7 64.3 275.6C65.2 274.5 66 274.5 66.9 274.8C67.7 275.1 68.4 276.3 69.4 277.3C70.4 278.3 71.8 280.7 72.8 280.7C73.8 280.7 74.5 279.1 75.3 277.3C76.1 275.5 76.8 271.4 77.5 269.7C78.2 267.9 78.8 266.8 79.5 266.8C80.3 266.8 81.2 267.9 82.1 269.7C82.9 271.4 83.8 274.4 84.6 277.3C85.5 280.3 86.3 284.1 87.2 287.5C88 290.9 88.9 294.7 89.7 297.6C90.6 300.6 91.4 303.1 92.2 305.2C93.1 307.4 93.8 308.8 94.8 310.3C95.8 311.8 97 313.4 98.2 314.2C99.3 315.1 100.4 315.5 101.6 315.4C102.7 315.3 103.8 314.5 104.9 313.7C106.1 312.9 107.2 311.6 108.3 310.3C109.4 309 110.6 308.2 111.7 306.1C112.8 304 114.2 299.7 115.2 297.6C116.2 295.5 116.8 294.4 117.7 293.4C118.5 292.4 119.5 291.6 120.2 291.7C120.9 291.8 121.2 293.3 121.9 294.2C122.6 295.2 123.5 296.9 124.5 297.3C125.5 297.6 126.7 296.5 127.8 296.3C129 296 130.1 295.6 131.2 295.9C132.4 296.2 133.5 297.1 134.6 298C135.7 298.8 136.9 300 138 301C139.1 302 140.4 303.4 141.4 304.1C142.4 304.7 143.1 305 143.9 304.9C144.8 304.8 145.5 304.2 146.5 303.5C147.5 302.9 148.7 301.7 149.9 301C151 300.4 152 299.9 153.2 299.7C154.5 299.4 156.1 299.6 157.5 299.7C158.9 299.7 160.4 300.1 161.7 300.2C163 300.2 164 300.4 165.1 300.2C166.2 299.9 167.3 298.8 168.5 298.5C169.6 298.1 170.7 297.7 171.9 298C173 298.2 174.1 299.4 175.2 300.2C176.4 301 177.5 302 178.6 302.7C179.8 303.4 180.7 304.2 182 304.4C183.3 304.6 184.8 304.1 186.2 304.1C187.7 304 189.1 303.7 190.5 303.9C191.9 304.1 193.4 304.5 194.7 305.2C196 305.9 197 307.4 198.1 308.1C199.2 308.8 200.5 309.5 201.5 309.5C202.5 309.4 203.2 308.6 204 307.8C204.9 306.9 205.6 305.7 206.6 304.4C207.5 303.1 208.8 301.6 209.9 300.2C211.1 298.8 212.3 297.1 213.3 295.9C214.3 294.8 215.4 293.8 215.9 293.4" fill="none" stroke="#12aeee" stroke-width="1.6" stroke-linejoin="round" stroke-linecap="round"/>
<path d="M4.2 297.6C4.7 296.9 5.9 294.7 6.8 293.4C7.6 292.1 8.5 290.1 9.3 290C10.2 289.9 11 291.3 11.8 292.5C12.7 293.8 13.5 297.1 14.4 297.3C15.2 297.4 16.1 294.2 16.9 293.4C17.8 292.6 18.5 292.3 19.5 292.5C20.5 292.8 21.7 294.5 22.8 295.1C24 295.6 25.1 296.5 26.2 295.9C27.4 295.4 28.5 292.5 29.6 291.7C30.7 290.9 31.9 290.6 33 290.9C34.1 291.1 35.3 292.7 36.4 293.4C37.5 294.1 38.6 295.4 39.8 295.1C40.9 294.8 42 292.5 43.2 291.7C44.3 290.9 45.4 290.8 46.5 290.5C47.7 290.2 48.8 291.1 49.9 290C51.1 288.9 52.2 285.7 53.3 284.1C54.4 282.5 55.6 281.1 56.7 280.4C57.8 279.6 59 279.4 60.1 279.3C61.2 279.3 62.2 279.7 63.5 279.9C64.7 280 66.4 280.5 67.7 280.4C69 280.2 70 279.8 71.1 279C72.2 278.2 73.3 276.6 74.5 275.6C75.6 274.6 76.9 273.6 77.9 273.1C78.8 272.6 79.5 272.3 80.4 272.6C81.2 272.9 82.1 273.6 82.9 274.8C83.8 276 84.6 277.9 85.5 279.9C86.3 281.8 87.2 284.4 88 286.6C88.9 288.9 89.7 291.6 90.6 293.4C91.4 295.2 92.1 296.7 93.1 297.6C94.1 298.6 95.3 298.6 96.5 299C97.6 299.4 98.6 299.6 99.9 300.2C101.1 300.7 102.7 301.7 104.1 302.4C105.5 303 107.2 304.3 108.3 304.1C109.4 303.8 109.9 303.5 110.9 301C111.9 298.5 113.3 292.1 114.3 289.2C115.3 286.2 116 284.4 116.8 283.2C117.7 282.1 118.5 282 119.4 282.4C120.2 282.8 121.1 284.6 121.9 285.8C122.8 286.9 123.6 289.2 124.5 289.2C125.3 289.2 126.2 288.3 127 285.8C127.8 283.2 128.7 277.7 129.5 273.9C130.4 270.1 131.2 265.6 132.1 262.9C132.9 260.2 133.8 258.8 134.6 257.8C135.5 256.9 136.3 257.1 137.2 257.5C138 257.9 138.7 259.1 139.7 260.4C140.7 261.7 142 264.3 143.1 265.5C144.2 266.6 145.3 266.6 146.5 267.2C147.6 267.7 148.7 268.2 149.9 268.9C151 269.5 152.1 270.6 153.2 271.1C154.4 271.5 155.6 271.2 156.6 271.4C157.6 271.5 158.3 271.2 159.2 271.9C160 272.6 160.9 274.2 161.7 275.6C162.5 277.1 163.4 279.2 164.2 280.7C165.1 282.2 165.8 283.7 166.8 284.4C167.8 285.1 169.2 284.6 170.2 284.9C171.1 285.3 171.7 285.6 172.7 286.6C173.7 287.6 175 289.9 176.1 290.9C177.2 291.8 178.2 292.3 179.5 292.5C180.7 292.8 182.4 293 183.7 292.5C185 292.1 186.1 291 187.1 290C188.1 289 188.8 287.4 189.6 286.6C190.5 285.8 191.3 285.3 192.2 285.3C193 285.3 193.9 285.7 194.7 286.6C195.6 287.6 196.4 289.3 197.2 290.9C198.1 292.4 198.8 294.6 199.8 295.9C200.8 297.3 202 298.6 203.2 299C204.3 299.4 205.4 299 206.6 298.5C207.7 298 208.8 296.9 209.9 295.9C211.1 294.9 212.3 293.5 213.3 292.5C214.3 291.6 215.4 290.4 215.9 290" fill="none" stroke="#70ad47" stroke-width="1.6" stroke-linejoin="round" stroke-linecap="round"/>
<path d="M236.8 300.2C237.3 299.3 239 296.5 240.2 295.1C241.3 293.7 242.4 292 243.5 291.7C244.7 291.4 245.9 292.5 246.9 293.4C247.9 294.2 248.6 296 249.5 296.8C250.3 297.5 251 298 252 298C253 298 254.3 297.5 255.4 296.8C256.5 296.1 257.6 294.7 258.8 293.9C259.9 293.1 261 292.1 262.2 291.7C263.3 291.3 264.6 291.3 265.5 291.7C266.5 292.1 267.2 293.3 268.1 294.2C268.9 295.2 269.8 297 270.6 297.6C271.5 298.2 272.3 298.2 273.2 298C274 297.7 274.9 296.7 275.7 295.9C276.5 295.2 277.2 294.1 278.2 293.4C279.2 292.7 280.5 292.3 281.6 291.7C282.8 291.1 283.9 290.6 285 290C286.1 289.4 287.4 288.5 288.4 288.3C289.4 288.1 290.1 288.8 290.9 288.8C291.8 288.8 292.6 289.7 293.5 288.3C294.3 287 295.2 283.2 296 280.7C296.9 278.2 297.7 274.7 298.5 273.1C299.4 271.5 300.2 270.8 301.1 271.1C301.9 271.3 302.8 272.9 303.6 274.8C304.5 276.7 305.3 279.4 306.2 282.4C307 285.4 307.9 288.9 308.7 292.5C309.5 296.2 310.4 300.7 311.2 304.4C312.1 308.1 312.9 311.6 313.8 314.5C314.6 317.5 315.5 320.6 316.3 322.2C317.2 323.7 318 324 318.9 323.9C319.7 323.7 320.6 322.1 321.4 321.3C322.2 320.6 323.1 319.3 323.9 319.3C324.8 319.3 325.6 320.7 326.5 321.3C327.3 321.9 328.2 323 329 323C329.9 323 330.6 322.2 331.6 321.3C332.5 320.5 333.8 318.8 334.9 317.9C336.1 317 337.2 316.3 338.3 315.9C339.4 315.5 340.4 315.8 341.7 315.4C343 315 344.8 314.5 345.9 313.7C347 312.9 347.6 311.4 348.5 310.3C349.3 309.3 350.3 308 351 307.4C351.7 306.9 352 306.5 352.7 306.9C353.4 307.4 354.4 309.3 355.2 310.3C356.1 311.3 356.8 312.2 357.8 312.9C358.8 313.5 359.9 314.1 361.2 314.2C362.4 314.4 364 314 365.4 313.7C366.8 313.4 368.2 312.9 369.6 312.5C371 312.2 372.7 311.8 373.9 311.7C375 311.6 375.4 311.7 376.4 312C377.4 312.3 378.6 313.3 379.8 313.7C380.9 314.1 382.2 314.6 383.2 314.5C384.1 314.5 384.9 313.9 385.7 313.2C386.5 312.5 387.4 311.3 388.2 310.3C389.1 309.4 389.9 308.1 390.8 307.4C391.6 306.8 392.5 306.4 393.3 306.4C394.2 306.5 394.9 307 395.9 307.8C396.8 308.5 398 310 399.2 310.8C400.5 311.6 402.1 312.3 403.5 312.5C404.9 312.7 406.3 312.4 407.7 312C409.1 311.6 410.5 310.5 411.9 310C413.3 309.4 415 308.8 416.2 308.6C417.3 308.5 417.7 308.7 418.7 309.1C419.7 309.6 421 310.7 422.1 311.5C423.2 312.3 424.3 313.2 425.5 313.7C426.6 314.2 427.7 314.6 428.9 314.5C430 314.5 431.1 314 432.2 313.2C433.4 312.3 434.5 310.9 435.6 309.5C436.8 308 437.9 306.1 439 304.4C440.1 302.7 441.3 300.9 442.4 299.3C443.5 297.8 444.8 296.3 445.8 295.1C446.8 293.9 447.9 292.7 448.3 292.2" fill="none" stroke="#151515" stroke-width="1.6" stroke-linejoin="round" stroke-linecap="round"/>
<path d="M236.8 300.7C237.3 299.7 239 296.5 240.2 295.1C241.3 293.7 242.4 292.8 243.5 292.2C244.7 291.6 245.8 291.9 246.9 291.7C248.1 291.5 249.2 290.7 250.3 290.9C251.4 291 252.6 292 253.7 292.5C254.8 293.1 256 293.8 257.1 293.9C258.2 294 259.3 293.8 260.5 293.4C261.6 293 262.7 292.4 263.9 291.7C265 291 266.1 289.9 267.2 289.2C268.4 288.5 269.5 288 270.6 287.5C271.7 286.9 272.9 286.2 274 285.8C275.1 285.4 276.4 284.8 277.4 284.9C278.4 285.1 279.1 285.8 279.9 286.6C280.8 287.5 281.6 289.1 282.5 290C283.3 290.9 284.2 291.9 285 292.2C285.9 292.5 286.7 292.3 287.5 291.7C288.4 291.1 289.2 289.9 290.1 288.3C290.9 286.8 291.8 284.5 292.6 282.4C293.5 280.3 294.3 277.7 295.2 275.6C296 273.5 296.9 271 297.7 269.7C298.5 268.4 299.4 268 300.2 268C301.1 268 301.9 268.4 302.8 269.7C303.6 271 304.5 273.2 305.3 275.6C306.2 278 307 281.3 307.9 284.1C308.7 286.9 309.5 290.1 310.4 292.5C311.2 294.9 312.1 297.1 312.9 298.5C313.8 299.9 314.6 300.5 315.5 301C316.3 301.5 317 301.5 318 301.3C319 301.1 320.3 300.6 321.4 299.8C322.5 299.1 323.7 297.8 324.8 296.8C325.9 295.7 327 294.7 328.2 293.4C329.3 292.1 330.4 290.6 331.6 289.2C332.7 287.8 333.8 286.3 334.9 284.9C336.1 283.5 337.2 282 338.3 280.7C339.4 279.4 340.3 278.3 341.7 277.3C343.1 276.3 345.4 275.3 346.8 274.8C348.2 274.2 349 274.1 350.2 273.9C351.3 273.7 352.4 273.7 353.5 273.6C354.7 273.4 355.8 273.4 356.9 273.1C358.1 272.7 359.2 272 360.3 271.4C361.4 270.8 362.7 270.1 363.7 269.7C364.7 269.3 365.4 268.9 366.2 268.9C367.1 268.9 367.9 269.1 368.8 269.7C369.6 270.3 370.5 271.3 371.3 272.2C372.2 273.2 373 274.7 373.9 275.3C374.7 275.9 375.5 275.6 376.4 276C377.2 276.3 378.2 276.2 378.9 277.3C379.6 278.4 380.1 280.3 380.6 282.4C381.2 284.5 381.7 288 382.3 290C382.9 292 383.2 293.3 384 294.2C384.9 295.2 386.3 295.5 387.4 295.9C388.5 296.4 389.6 296.5 390.8 296.8C391.9 297.1 393.2 297.1 394.2 297.6C395.1 298.2 396 299.2 396.7 300.2C397.4 301.1 397.7 302.8 398.4 303.5C399.1 304.3 399.9 304.7 400.9 304.7C401.9 304.7 403.2 304 404.3 303.5C405.4 303.1 406.6 302.4 407.7 301.9C408.8 301.3 410 300.6 411.1 300.2C412.2 299.7 413.3 299.2 414.5 299C415.6 298.8 416.6 298.8 417.9 298.8C419.1 298.8 420.7 298.8 422.1 299C423.5 299.2 424.9 299.8 426.3 300.2C427.7 300.6 429.1 301 430.6 301.3C432 301.7 433.4 302.1 434.8 302.4C436.2 302.6 437.6 302.7 439 302.7C440.4 302.7 441.7 302.8 443.2 302.4C444.8 301.9 447.5 300.5 448.3 300.2" fill="none" stroke="#fa0f14" stroke-width="1.6" stroke-linejoin="round" stroke-linecap="round"/>
<path d="M236.8 300.2C237.3 299.5 239 297.2 240.2 295.9C241.3 294.7 242.4 293.4 243.5 292.5C244.7 291.7 245.8 291.4 246.9 290.9C248.1 290.3 249.2 289.4 250.3 289.2C251.4 288.9 252.6 289.2 253.7 289.5C254.8 289.8 256 290.6 257.1 290.9C258.2 291.1 259.3 291.2 260.5 290.9C261.6 290.5 262.7 289.3 263.9 288.8C265 288.3 266.1 287.9 267.2 287.8C268.4 287.7 269.5 288.1 270.6 288.3C271.7 288.5 272.9 288.7 274 288.8C275.1 288.9 276.3 288.8 277.4 288.8C278.5 288.9 279.6 289.2 280.8 289.2C281.9 289.1 283.2 288.9 284.2 288.3C285.1 287.8 285.9 287.2 286.7 285.8C287.5 284.4 288.4 282 289.2 279.9C290.1 277.7 290.9 274.7 291.8 273.1C292.6 271.5 293.5 270.3 294.3 270.2C295.2 270.1 296 270.9 296.9 272.2C297.7 273.6 298.5 275.9 299.4 278.2C300.2 280.4 301.1 283 301.9 285.8C302.8 288.6 303.6 292 304.5 295.1C305.3 298.2 306.2 301.4 307 304.4C307.9 307.4 308.7 310.2 309.5 312.9C310.4 315.5 311.2 318.2 312.1 320.5C312.9 322.7 313.6 324.7 314.6 326.4C315.6 328.1 316.9 329.7 318 330.6C319.1 331.6 320.3 331.9 321.4 332C322.5 332.1 323.7 331.6 324.8 331.1C325.9 330.6 327 329.7 328.2 328.9C329.3 328.1 330.4 327 331.6 326.4C332.7 325.8 333.7 325.7 334.9 325.6C336.2 325.4 337.9 325.8 339.2 325.6C340.4 325.3 341.3 325.1 342.6 323.9C343.8 322.6 345.5 320 346.8 317.9C348 315.8 349 313.6 350.2 311.2C351.3 308.8 352.4 305.9 353.5 303.5C354.7 301.1 355.8 298.9 356.9 296.8C358.1 294.7 359.2 292.5 360.3 290.9C361.4 289.2 362.6 287.8 363.7 286.6C364.8 285.4 366 284.4 367.1 283.7C368.2 283 369.3 282.5 370.5 282.4C371.6 282.3 372.9 282.7 373.9 283.2C374.8 283.7 375.5 284.4 376.4 285.4C377.2 286.4 378.1 287.8 378.9 289.2C379.8 290.5 380.6 292 381.5 293.4C382.3 294.8 383.2 296.1 384 297.6C384.9 299.2 385.7 301 386.5 302.7C387.4 304.4 388.2 306.2 389.1 307.8C389.9 309.3 390.8 310.9 391.6 312C392.5 313.1 393.2 313.8 394.2 314.2C395.1 314.6 396.4 314.3 397.5 314.5C398.7 314.8 399.8 315.4 400.9 315.9C402.1 316.4 403.2 317.2 404.3 317.6C405.4 318 406.6 318.4 407.7 318.4C408.8 318.5 410 318.4 411.1 317.9C412.2 317.5 413.3 316.7 414.5 315.9C415.6 315.1 416.7 314.1 417.9 313.2C419 312.3 420.1 311.4 421.2 310.7C422.4 310 423.4 309.4 424.6 309C425.9 308.5 427.4 308.3 428.9 308.1C430.3 307.9 431.5 307.9 433.1 307.8C434.6 307.7 436.5 307.6 438.2 307.4C439.9 307.3 441.8 307.2 443.2 306.9C444.7 306.7 445.8 306.2 446.6 305.7C447.5 305.3 448 304.6 448.3 304.4" fill="none" stroke="#12aeee" stroke-width="1.6" stroke-linejoin="round" stroke-linecap="round"/>
<path d="M236.8 299.3C237.3 298.3 239 294.9 240.2 293.4C241.3 291.8 242.4 290.8 243.5 290C244.7 289.2 245.8 288.7 246.9 288.8C248.1 289 249.2 290 250.3 290.9C251.4 291.8 252.6 293.4 253.7 294.2C254.8 295.1 256 295.8 257.1 295.9C258.2 296.1 259.3 295.6 260.5 295.1C261.6 294.5 262.7 293.5 263.9 292.5C265 291.6 266.1 290.1 267.2 289.5C268.4 288.9 269.6 289 270.6 289.2C271.6 289.3 272.3 289.8 273.2 290.5C274 291.2 274.7 292.6 275.7 293.4C276.7 294.2 278 294.9 279.1 295.1C280.2 295.2 281.3 295.1 282.5 294.2C283.6 293.4 284.7 291.8 285.9 290C287 288.2 288.1 285.5 289.2 283.2C290.4 281 291.5 278.4 292.6 276.5C293.8 274.5 294.9 272.6 296 271.4C297.1 270.2 298.3 269.4 299.4 269.4C300.5 269.4 301.7 270.1 302.8 271.4C303.9 272.7 305 274.9 306.2 277.3C307.3 279.7 308.4 283.2 309.5 285.8C310.7 288.3 311.8 290.9 312.9 292.5C314.1 294.2 315.2 295.2 316.3 295.9C317.4 296.6 318.6 296.9 319.7 296.8C320.8 296.6 322 296.1 323.1 295.1C324.2 294.1 325.3 292.4 326.5 290.9C327.6 289.3 328.7 287 329.9 285.8C331 284.6 332.1 283.9 333.2 283.7C334.4 283.6 335.5 285 336.6 284.9C337.8 284.8 338.9 284.2 340 283.2C341.1 282.2 342.6 280.1 343.4 279C344.2 277.9 344.4 276.7 345.1 276.5C345.8 276.2 346.8 276.8 347.6 277.3C348.5 277.8 349.3 279.3 350.2 279.3C351 279.3 351.8 278.4 352.7 277.3C353.5 276.3 354.4 274.6 355.2 273.1C356.1 271.5 356.9 269.3 357.8 268C358.6 266.7 359.6 265.7 360.3 265.1C361 264.6 361.4 264.4 362 264.6C362.6 264.8 363 265.2 363.7 266.3C364.4 267.4 365.4 269.6 366.2 271.4C367.1 273.2 367.9 275.7 368.8 277.3C369.6 278.9 370.5 280.5 371.3 281C372.2 281.6 373 281 373.9 280.7C374.7 280.4 375.7 279.2 376.4 279.3C377.1 279.5 377.5 280.3 378.1 281.5C378.6 282.8 379.1 284.8 379.8 286.6C380.5 288.5 381.5 291.3 382.3 292.5C383.2 293.8 383.9 294.2 384.9 294.2C385.8 294.2 387.1 293 388.2 292.5C389.4 292.1 390.6 291.7 391.6 291.7C392.6 291.7 393.3 292 394.2 292.5C395 293.1 395.9 294.5 396.7 295.1C397.5 295.7 398.4 296.3 399.2 296.3C400.1 296.3 400.8 295.6 401.8 295.1C402.8 294.6 404 293.5 405.2 293.4C406.3 293.3 407.4 293.7 408.5 294.2C409.7 294.8 410.8 295.9 411.9 296.8C413.1 297.6 414.2 298.6 415.3 299.3C416.4 300 417.6 300.6 418.7 301C419.8 301.4 421 301.7 422.1 301.5C423.2 301.4 424.3 301 425.5 300.2C426.6 299.4 427.7 297.7 428.9 296.8C430 295.8 431.1 295.1 432.2 294.6C433.4 294.1 434.4 294 435.6 293.9C436.9 293.8 438.4 293.9 439.9 294.2C441.3 294.6 442.7 295.1 444.1 295.9C445.5 296.7 447.6 298.5 448.3 299" fill="none" stroke="#70ad47" stroke-width="1.6" stroke-linejoin="round" stroke-linecap="round"/>
<path d="M468.4 299.3C468.9 298.6 470.6 296.6 471.8 295.1C472.9 293.5 474 291.4 475.2 290C476.3 288.6 477.4 287.5 478.5 286.6C479.7 285.8 480.9 285.2 481.9 284.9C482.9 284.7 483.6 284.6 484.5 285.3C485.3 285.9 486.2 287.5 487 288.8C487.8 290.2 488.7 292.1 489.5 293.4C490.4 294.7 491.2 296.1 492.1 296.8C492.9 297.5 493.8 298 494.6 297.6C495.5 297.2 496.3 295.7 497.2 294.2C498 292.8 498.9 290.2 499.7 288.8C500.5 287.4 501.4 286 502.2 285.8C503.1 285.6 503.9 286.8 504.8 287.5C505.6 288.2 506.5 289.5 507.3 290C508.2 290.5 508.9 290.8 509.9 290.5C510.8 290.2 512.1 289.2 513.2 288.3C514.4 287.4 515.5 285.9 516.6 284.9C517.8 283.9 518.9 283.1 520 282.4C521.1 281.7 522.4 281 523.4 280.7C524.4 280.4 525.1 280.1 525.9 280.4C526.8 280.6 527.6 282.1 528.5 282.4C529.3 282.7 530.2 282.6 531 282.1C531.9 281.5 532.7 280.3 533.5 279.3C534.4 278.4 535.2 277.3 536.1 276.5C536.9 275.6 537.8 274.7 538.6 274.3C539.5 273.8 540.2 273.6 541.2 273.6C542.2 273.5 543.4 273.5 544.5 273.9C545.7 274.3 546.8 275.3 547.9 276C549.1 276.7 550.2 277.7 551.3 278.2C552.4 278.7 553.6 278.9 554.7 279C555.8 279.1 557 278.7 558.1 278.7C559.2 278.7 560.5 278.5 561.5 279C562.5 279.5 563.2 280.3 564 281.5C564.9 282.8 565.7 284.6 566.6 286.6C567.4 288.6 568.2 291.1 569.1 293.4C569.9 295.6 570.8 298 571.6 300.2C572.5 302.3 573.3 304.4 574.2 306.1C575 307.8 576.1 309.4 576.7 310.3C577.3 311.2 577 311.1 577.6 311.5C578.2 311.9 579.2 312.6 580.2 312.9C581.1 313.1 582.4 312.9 583.5 313.2C584.7 313.5 585.9 313.8 586.9 314.5C587.9 315.3 588.6 316.9 589.5 317.9C590.3 319 591 320.4 592 321C593 321.6 594.3 321.8 595.4 321.7C596.5 321.5 597.6 320.6 598.8 320C599.9 319.3 601 318.3 602.2 317.6C603.3 316.9 604.4 316.1 605.5 315.9C606.7 315.7 607.8 315.9 608.9 316.2C610.1 316.6 611.2 317.5 612.3 317.9C613.4 318.4 614.6 318.8 615.7 318.8C616.8 318.8 618 318.5 619.1 317.9C620.2 317.4 621.3 316 622.5 315.4C623.6 314.8 624.7 314.1 625.9 314.2C627 314.3 628.3 315.5 629.2 315.9C630.2 316.3 630.8 316.9 631.8 316.6C632.8 316.3 634 315.3 635.2 314.2C636.3 313.1 637.4 310.9 638.5 309.8C639.7 308.7 640.8 307.9 641.9 307.8C643.1 307.7 644.2 308.4 645.3 309.1C646.4 309.8 647.6 311.2 648.7 312C649.8 312.8 651 313.5 652.1 313.7C653.2 313.9 654.3 313.6 655.5 313.2C656.6 312.8 657.7 311.9 658.9 311.2C660 310.4 661.1 309.2 662.2 308.6C663.4 308.1 664.5 307.7 665.6 307.8C666.8 307.9 667.9 308.9 669 309.1C670.1 309.4 671.1 309.4 672.4 309.1C673.7 308.9 675.2 308.3 676.6 307.8C678 307.3 680.2 306.4 680.9 306.1" fill="none" stroke="#151515" stroke-width="1.6" stroke-linejoin="round" stroke-linecap="round"/>
<path d="M468.4 300.2C468.9 300.2 470.6 300.2 471.8 300.2C472.9 300.2 474 300.4 475.2 300.2C476.3 300 477.6 299.8 478.5 299C479.5 298.1 480.2 296.6 481.1 295.1C481.9 293.6 482.8 291.3 483.6 290C484.5 288.7 485.3 287.6 486.2 287.5C487 287.3 487.8 288.3 488.7 289.2C489.5 290 490.2 291.8 491.2 292.5C492.2 293.3 493.5 293.7 494.6 293.4C495.7 293.1 496.9 291.7 498 290.9C499.1 290 500.3 289.2 501.4 288.3C502.5 287.5 503.6 286.4 504.8 285.8C505.9 285.1 507 284.6 508.2 284.4C509.3 284.3 510.4 284.7 511.5 284.9C512.7 285.2 513.8 285.6 514.9 285.8C516.1 285.9 517.2 285.6 518.3 285.8C519.4 285.9 520.6 286.5 521.7 286.6C522.8 286.8 524 287 525.1 286.6C526.2 286.2 527.3 285.1 528.5 284.1C529.6 283.1 530.7 281.5 531.9 280.7C533 279.9 534 279.2 535.2 279C536.5 278.8 538.1 279.2 539.5 279.3C540.9 279.5 542.3 279.7 543.7 279.9C545.1 280 546.7 280.2 547.9 280.4C549.2 280.5 550.2 280.4 551.3 280.7C552.4 281 553.6 281.5 554.7 282.4C555.8 283.2 557 284.4 558.1 285.8C559.2 287.2 560.3 289.2 561.5 290.9C562.6 292.5 563.7 294.4 564.9 295.9C566 297.5 567.1 299.3 568.2 300.2C569.4 301.1 570.5 301.5 571.6 301.3C572.8 301.2 574 300.2 575 299.3C576 298.4 576.8 297.3 577.6 295.9C578.5 294.5 579.2 292.5 580.2 290.9C581.1 289.2 582.4 286.9 583.5 285.8C584.7 284.6 585.8 284.4 586.9 284.1C588.1 283.8 589.2 284.2 590.3 284.1C591.4 283.9 592.6 283.7 593.7 283.2C594.8 282.8 596 282 597.1 281.5C598.2 281.1 599.3 280.4 600.5 280.4C601.6 280.4 602.7 280.9 603.9 281.5C605 282.2 606.1 283.8 607.2 284.1C608.4 284.4 609.5 283.7 610.6 283.2C611.7 282.8 612.9 281.8 614 281.5C615.1 281.3 616.3 281.1 617.4 281.5C618.5 282 619.6 282.8 620.8 284.1C621.9 285.4 623 287.2 624.2 289.2C625.3 291.1 626.4 294.1 627.5 295.9C628.7 297.8 629.8 299.4 630.9 300.2C632.1 301 633.2 300.8 634.3 300.7C635.4 300.5 636.6 299.6 637.7 299.3C638.8 299 640 298.8 641.1 299C642.2 299.1 643.3 299.4 644.5 300.2C645.6 300.9 646.7 302.7 647.9 303.5C649 304.4 650 305 651.2 305.2C652.5 305.4 654.1 305 655.5 304.7C656.9 304.4 658.3 304 659.7 303.5C661.1 303.1 662.5 302.3 663.9 301.9C665.3 301.4 666.8 301.1 668.2 301C669.6 300.9 671 300.9 672.4 301C673.8 301.1 675.2 301.2 676.6 301.5C678 301.8 680.2 302.5 680.9 302.7" fill="none" stroke="#fa0f14" stroke-width="1.6" stroke-linejoin="round" stroke-linecap="round"/>
<path d="M468.4 301C468.9 300.3 470.6 298 471.8 296.8C472.9 295.5 474 294.2 475.2 293.4C476.3 292.5 477.4 292 478.5 291.7C479.7 291.4 480.9 291.6 481.9 291.7C482.9 291.8 483.6 292 484.5 292.5C485.3 293.1 486.2 294.1 487 295.1C487.8 296.1 488.7 297.7 489.5 298.5C490.4 299.2 491.1 299.8 492.1 299.7C493.1 299.5 494.3 298.7 495.5 297.6C496.6 296.6 497.7 294.8 498.9 293.4C500 292 501.1 290.3 502.2 289.2C503.4 288 504.6 287.2 505.6 286.6C506.6 286.1 507.3 285.5 508.2 285.8C509 286.1 509.9 287.3 510.7 288.3C511.5 289.3 512.4 290.9 513.2 291.7C514.1 292.5 514.9 293.2 515.8 292.9C516.6 292.6 517.5 291.2 518.3 290C519.2 288.8 520 287.2 520.9 285.8C521.7 284.4 522.5 283 523.4 281.5C524.2 280.1 525.1 278.4 525.9 277.3C526.8 276.2 527.6 275.4 528.5 274.8C529.3 274.2 530.2 273.6 531 273.6C531.9 273.6 532.7 274.2 533.5 274.8C534.4 275.4 535.2 276.2 536.1 277.3C536.9 278.4 537.8 280.3 538.6 281.5C539.5 282.8 540.3 284.2 541.2 284.6C542 285 542.7 283.7 543.7 284.1C544.7 284.4 546 285.6 547.1 286.6C548.2 287.6 549.3 288.7 550.5 290C551.6 291.3 552.7 292.7 553.9 294.2C555 295.8 556.1 297.6 557.2 299.3C558.4 301 559.5 302.7 560.6 304.4C561.8 306.1 562.9 307.8 564 309.5C565.1 311.2 566.3 313 567.4 314.5C568.5 316.1 569.7 317.5 570.8 318.8C571.9 320 572.6 321.1 574.2 322.2C575.7 323.2 578.6 324.8 580.2 325C581.7 325.2 582.4 324 583.5 323.3C584.7 322.7 585.8 321.4 586.9 321.3C588.1 321.2 589.2 322 590.3 322.7C591.4 323.4 592.6 324.8 593.7 325.6C594.8 326.3 596 327.2 597.1 327.2C598.2 327.2 599.3 326.1 600.5 325.6C601.6 325 602.7 324.1 603.9 323.9C605 323.6 606.1 323.7 607.2 323.9C608.4 324.1 609.5 324.8 610.6 325C611.7 325.2 612.9 325.5 614 325C615.1 324.6 616.4 323.2 617.4 322.2C618.4 321.1 619.1 319.3 619.9 318.8C620.8 318.3 621.5 318.6 622.5 319.1C623.5 319.6 624.7 321 625.9 321.7C627 322.3 628.1 323.1 629.2 323C630.4 323 631.5 322 632.6 321.3C633.8 320.6 634.9 319.3 636 318.8C637.1 318.2 638.3 317.8 639.4 317.9C640.5 318.1 641.7 318.8 642.8 319.6C643.9 320.4 645 322 646.2 322.7C647.3 323.4 648.4 323.9 649.5 323.9C650.7 323.8 651.8 323.2 652.9 322.2C654.1 321.2 655.2 319.3 656.3 317.9C657.4 316.6 658.6 315.1 659.7 314.2C660.8 313.4 661.8 313 663.1 312.9C664.4 312.7 665.9 312.9 667.3 313.2C668.7 313.5 670.1 314.4 671.6 314.9C673 315.3 674.5 316.2 675.8 315.9C677.1 315.6 678.3 314.4 679.2 313.2C680 312 680.6 309.4 680.9 308.6" fill="none" stroke="#12aeee" stroke-width="1.6" stroke-linejoin="round" stroke-linecap="round"/>
<path d="M468.4 298.5C468.9 297.6 470.6 295.2 471.8 293.4C472.9 291.6 474 289 475.2 287.5C476.3 285.9 477.4 284.9 478.5 284.1C479.7 283.3 480.8 282.7 481.9 282.7C483.1 282.7 484.2 283.3 485.3 284.1C486.4 284.9 487.6 286.3 488.7 287.5C489.8 288.6 491.1 290.1 492.1 290.9C493.1 291.6 493.8 292 494.6 291.7C495.5 291.4 496.3 290.3 497.2 289.2C498 288 498.9 286 499.7 284.9C500.5 283.9 501.2 283 502.2 282.7C503.2 282.4 504.6 282.7 505.6 283.2C506.6 283.7 507.3 285.2 508.2 285.8C509 286.3 509.9 286.8 510.7 286.6C511.5 286.5 512.5 286.2 513.2 284.9C513.9 283.7 514.4 280.6 514.9 279C515.5 277.4 516.1 275.7 516.6 275.3C517.2 274.9 517.8 275.4 518.3 276.5C518.9 277.5 519.3 279.9 520 281.5C520.7 283.2 521.7 285.8 522.5 286.6C523.4 287.5 524.4 287.6 525.1 286.6C525.8 285.6 526.1 283.4 526.8 280.7C527.5 278 528.5 273.4 529.3 270.5C530.2 267.7 531.1 265.1 531.9 263.8C532.6 262.4 532.8 262.4 533.5 262.6C534.3 262.7 535.2 263.4 536.1 264.6C536.9 265.8 537.8 268 538.6 269.7C539.5 271.4 540.2 273.6 541.2 274.8C542.2 275.9 543.4 276 544.5 276.5C545.7 276.9 546.8 276.7 547.9 277.3C549.1 277.9 550.2 278.7 551.3 279.9C552.4 281 553.6 282.5 554.7 284.1C555.8 285.6 557 287.3 558.1 289.2C559.2 291 560.3 293.3 561.5 295.1C562.6 296.9 563.7 298.8 564.9 300.2C566 301.5 567.3 302.8 568.2 303C569.2 303.3 569.9 303.3 570.8 301.9C571.6 300.4 572.5 297.2 573.3 294.2C574.2 291.3 575.1 286.4 575.9 284.1C576.6 281.8 576.9 280.9 577.6 280.4C578.3 279.9 579.3 280.1 580.2 281C581 281.9 581.8 284 582.7 285.8C583.5 287.6 584.4 290.1 585.2 291.7C586.1 293.3 587.1 295 587.8 295.6C588.5 296.2 588.9 296.7 589.5 295.1C590 293.4 590.6 288.9 591.2 285.8C591.7 282.7 592.3 278.5 592.8 276.5C593.4 274.4 594 273.7 594.5 273.6C595.1 273.4 595.7 274.3 596.2 275.6C596.8 276.9 597.2 279.6 597.9 281.5C598.6 283.5 599.6 285.4 600.5 287.5C601.3 289.6 602.2 292.5 603 294.2C603.9 295.9 604.8 297.3 605.5 297.6C606.2 297.9 606.7 296.9 607.2 295.9C607.8 294.9 608.4 292.7 608.9 291.7C609.5 290.7 610.1 289.9 610.6 290C611.2 290.1 611.6 291.6 612.3 292.5C613 293.5 614 295.3 614.9 295.6C615.7 295.9 616.7 295 617.4 294.2C618.1 293.4 618.4 291.8 619.1 290.9C619.8 290 620.8 289 621.6 288.8C622.5 288.6 623.3 288.9 624.2 289.5C625 290.1 625.9 291.3 626.7 292.5C627.5 293.8 628.3 295.6 629.2 296.8C630.2 297.9 631.5 298.8 632.6 299.3C633.8 299.9 634.9 300.1 636 300.2C637.1 300.2 638.3 299.9 639.4 299.7C640.5 299.4 641.5 298.9 642.8 298.5C644 298 645.6 297.3 647 296.8C648.4 296.3 649.8 295.8 651.2 295.6C652.7 295.4 654.1 295.4 655.5 295.6C656.9 295.8 658.3 296.2 659.7 296.8C661.1 297.3 662.5 298.2 663.9 299C665.3 299.7 666.8 300.6 668.2 301.3C669.6 302.1 671 302.9 672.4 303.5C673.8 304.2 675.2 304.7 676.6 305.2C678 305.8 680.2 306.7 680.9 306.9" fill="none" stroke="#70ad47" stroke-width="1.6" stroke-linejoin="round" stroke-linecap="round"/>
<path d="M0.8 500.2C1.4 499.8 3 498.9 4.2 498C5.5 497 7.1 495.3 8.5 494.2C9.9 493.2 11.3 492.5 12.7 491.7C14.1 490.9 15.8 489.7 16.9 489.5C18.1 489.3 18.6 490 19.5 490.5C20.3 491 21 492.1 22 492.5C23 493 24.3 493.5 25.4 493.4C26.5 493.3 27.6 492.3 28.8 491.7C29.9 491.1 31 490.1 32.2 490C33.3 489.9 34.4 490.5 35.5 490.9C36.7 491.2 37.8 492.1 38.9 492.2C40.1 492.3 41.2 492.2 42.3 491.7C43.4 491.2 44.6 490.1 45.7 489.2C46.8 488.2 48 487.2 49.1 485.8C50.2 484.4 51.3 482.2 52.5 480.7C53.6 479.2 54.7 477.8 55.9 477C57 476.1 58.1 475.6 59.2 475.6C60.4 475.7 61.6 476.5 62.6 477.3C63.6 478.2 64.3 479.4 65.2 480.7C66 482 66.7 483.4 67.7 484.9C68.7 486.5 70 488.7 71.1 490C72.2 491.4 73.3 492.5 74.5 493.1C75.6 493.6 76.7 493.6 77.9 493.4C79 493.2 80.1 492.2 81.2 491.7C82.4 491.2 83.6 490.5 84.6 490.5C85.6 490.5 86.3 490.9 87.2 491.7C88 492.5 88.9 493.9 89.7 495.1C90.6 496.3 91.3 497.8 92.2 499C93.2 500.1 94.4 501.1 95.6 501.9C96.9 502.6 98.4 503.1 99.9 503.5C101.3 504 102.8 504.3 104.1 504.7C105.4 505.2 106.5 505.4 107.5 506.1C108.5 506.7 109.1 507.6 110.2 508.6C111.2 509.6 112.4 511.1 113.5 512C114.7 512.9 115.8 513.7 116.9 514.2C118.1 514.7 119.2 514.9 120.3 514.9C121.4 514.9 122.7 514.4 123.7 514.2C124.7 514 125.4 513.5 126.2 513.7C127.1 513.9 127.9 514.6 128.8 515.4C129.6 516.2 130.5 517.5 131.3 518.3C132.2 519 133 519.8 133.9 520C134.7 520.1 135.5 519.9 136.4 519.3C137.2 518.7 137.9 517.2 138.9 516.2C139.9 515.3 141.2 514.3 142.3 513.7C143.4 513.1 144.7 512.5 145.7 512.5C146.7 512.5 147.4 513.1 148.2 513.7C149.1 514.3 149.8 515.2 150.8 515.9C151.8 516.6 153 517.5 154.2 517.9C155.3 518.4 156.4 518.8 157.5 518.8C158.7 518.8 159.8 518.4 160.9 517.9C162.1 517.5 163.2 516.8 164.3 516.2C165.4 515.7 166.6 515.1 167.7 514.5C168.8 514 170 513.3 171.1 512.9C172.2 512.4 173.3 512.2 174.5 512C175.6 511.9 176.7 511.8 177.9 512C179 512.2 180.1 512.8 181.2 513.2C182.4 513.6 183.5 514.2 184.6 514.5C185.8 514.9 186.9 515.2 188 515.4C189.1 515.6 190.3 515.9 191.4 515.9C192.5 515.9 193.7 515.8 194.8 515.4C195.9 515 197 514.4 198.2 513.7C199.3 513 200.4 512.2 201.6 511.2C202.7 510.2 203.7 509.2 204.9 507.8C206.2 506.4 207.8 504.2 209.2 502.7C210.5 501.2 212.4 499.6 213.1 499" fill="none" stroke="#151515" stroke-width="1.6" stroke-linejoin="round" stroke-linecap="round"/>
<path d="M0.8 498.5C1.4 498 3 496.7 4.2 495.6C5.5 494.5 7.1 492.9 8.5 491.7C9.9 490.5 11.4 489 12.7 488.3C14 487.6 15 487.3 16.1 487.5C17.2 487.7 18.3 488.5 19.5 489.5C20.6 490.5 21.7 492.6 22.8 493.4C24 494.2 25.1 494.4 26.2 494.2C27.4 494.1 28.5 493.3 29.6 492.5C30.7 491.8 31.9 490.7 33 490C34.1 489.3 35.3 488.5 36.4 488.3C37.5 488.1 38.6 488.4 39.8 488.8C40.9 489.2 42 490 43.2 490.9C44.3 491.8 45.4 493.3 46.5 494.2C47.7 495.1 48.8 496.1 49.9 496.3C51.1 496.4 52.2 496 53.3 495.1C54.4 494.2 55.6 492.4 56.7 490.9C57.8 489.3 59 487.5 60.1 485.8C61.2 484.1 62.3 482.1 63.5 480.7C64.6 479.3 65.7 478 66.9 477.3C68 476.7 69.1 476.6 70.2 476.8C71.4 477 72.5 477.6 73.6 478.7C74.8 479.7 75.9 481.6 77 483.2C78.1 484.8 79.4 487.3 80.4 488.3C81.4 489.3 82.1 489.9 82.9 489.2C83.8 488.5 84.6 485.6 85.5 484.1C86.3 482.5 87.2 480.6 88 479.9C88.9 479.1 89.7 479.3 90.6 479.9C91.4 480.4 92.1 482 93.1 483.2C94.1 484.5 95.3 486.2 96.5 487.5C97.6 488.7 98.7 490.1 99.9 490.9C101 491.6 102.1 492 103.2 491.7C104.4 491.4 105.5 490.7 106.6 489.2C107.8 487.7 109.1 484 110.2 482.7C111.2 481.5 111.8 481.6 112.7 481.5C113.5 481.5 114.4 481.7 115.2 482.4C116.1 483.1 116.8 484.4 117.8 485.8C118.8 487.2 120 489.3 121.2 490.9C122.3 492.4 123.6 494 124.5 495.1C125.5 496.2 126.2 496.8 127.1 497.3C127.9 497.8 128.8 498.1 129.6 498C130.5 497.8 131.2 497 132.2 496.3C133.1 495.5 134.4 494.3 135.5 493.4C136.7 492.5 137.8 491.5 138.9 490.9C140.1 490.2 141.2 489.6 142.3 489.5C143.4 489.4 144.6 489.4 145.7 490C146.8 490.7 148.1 492.1 149.1 493.4C150.1 494.7 150.8 496.4 151.6 497.6C152.5 498.9 153.2 500.1 154.2 501C155.1 501.9 156.3 502.5 157.5 503C158.8 503.6 160.4 504.1 161.8 504.4C163.2 504.7 164.6 504.8 166 504.9C167.4 505 168.8 504.9 170.2 504.9C171.7 504.9 173.1 504.9 174.5 504.9C175.9 504.9 177.4 504.9 178.7 504.7C180 504.6 181 504.4 182.1 504.1C183.2 503.7 184.3 502.9 185.5 502.4C186.6 501.9 187.7 501.2 188.9 501C190 500.8 191.1 500.8 192.2 501C193.4 501.2 194.5 502 195.6 502.4C196.8 502.7 197.9 503.2 199 503C200.1 502.9 201.3 502 202.4 501.3C203.5 500.7 204.7 499.6 205.8 499.3C206.9 499 208 499.1 209.2 499.7C210.4 500.2 212.4 501.9 213.1 502.4" fill="none" stroke="#fa0f14" stroke-width="1.6" stroke-linejoin="round" stroke-linecap="round"/>
<path d="M0.8 500.2C1.4 499.7 3 498.8 4.2 497.6C5.5 496.5 7.2 494.5 8.5 493.4C9.7 492.3 10.7 491.4 11.8 490.9C13 490.3 14.1 489.9 15.2 490C16.4 490.1 17.5 491.7 18.6 491.7C19.7 491.7 20.9 490.7 22 490C23.1 489.4 24.3 488.1 25.4 487.8C26.5 487.5 27.5 488 28.8 488.3C30 488.6 31.6 489.4 33 489.5C34.4 489.6 35.8 489.4 37.2 489.2C38.6 489 40.2 488.7 41.5 488.3C42.7 487.9 43.7 487.3 44.9 486.6C46 486 47.1 485.4 48.2 484.4C49.4 483.4 50.5 481.9 51.6 480.7C52.8 479.5 53.9 478.2 55 477.3C56.1 476.5 57.3 475.8 58.4 475.6C59.5 475.5 60.6 475.6 61.8 476.5C62.9 477.3 64 478.9 65.2 480.7C66.3 482.5 67.4 485.1 68.5 487.5C69.7 489.9 70.8 492.7 71.9 495.1C73.1 497.5 74.2 499.7 75.3 501.9C76.4 504 77.6 506.1 78.7 507.8C79.8 509.5 81.1 511 82.1 512C83.1 513 83.8 513.7 84.6 513.7C85.5 513.7 86.3 512.9 87.2 512C88 511.2 88.9 509.4 89.7 508.6C90.6 507.9 91.4 507.4 92.2 507.4C93.1 507.5 93.8 508.2 94.8 509.1C95.8 510 97 511.7 98.2 512.9C99.3 514 100.4 515.3 101.6 516.2C102.7 517.2 103.8 518.1 104.9 518.4C106.1 518.8 107.2 518.4 108.3 518.3C109.5 518.1 110.8 517.4 111.8 517.6C112.9 517.8 113.5 518.8 114.4 519.6C115.2 520.5 116.1 521.8 116.9 522.7C117.8 523.5 118.6 524.3 119.5 524.7C120.3 525.1 121.2 525.2 122 525C122.8 524.9 123.7 524.5 124.5 523.9C125.4 523.2 126.2 522.1 127.1 521C127.9 519.9 128.8 518.1 129.6 517.1C130.5 516.1 131.3 515.3 132.2 514.9C133 514.5 133.9 514.3 134.7 514.5C135.5 514.8 136.2 515.7 137.2 516.2C138.2 516.8 139.5 517.9 140.6 517.9C141.7 517.9 142.9 516.9 144 516.2C145.1 515.5 146.3 514.3 147.4 513.7C148.5 513.1 149.6 512.7 150.8 512.5C151.9 512.3 153 512.4 154.2 512.5C155.3 512.7 156.4 512.9 157.5 513.4C158.7 513.8 159.7 514.8 160.9 515.4C162.2 516 163.8 516.7 165.2 517.1C166.6 517.4 168.1 517.6 169.4 517.4C170.7 517.2 171.7 516.7 172.8 515.9C173.9 515.1 175 513.6 176.2 512.9C177.3 512.1 178.4 511.4 179.5 511.2C180.7 510.9 181.8 510.9 182.9 511.2C184.1 511.4 185 512.3 186.3 512.9C187.6 513.4 189.1 514 190.6 514.2C192 514.4 193.5 514.4 194.8 514.2C196.1 514 197 513.5 198.2 512.9C199.3 512.2 200.4 511.3 201.6 510.3C202.7 509.3 203.7 508.3 204.9 506.9C206.2 505.6 207.8 503.6 209.2 502.4C210.5 501.1 212.4 499.8 213.1 499.3" fill="none" stroke="#12aeee" stroke-width="1.6" stroke-linejoin="round" stroke-linecap="round"/>
<path d="M0.8 490C1.6 489.6 3.7 488.2 5.1 487.5C6.5 486.7 7.9 485.9 9.3 485.4C10.7 484.9 12.3 484.4 13.5 484.4C14.8 484.4 15.8 484.8 16.9 485.4C18.1 486.1 19.2 487.4 20.3 488.3C21.4 489.2 22.6 490.6 23.7 490.9C24.8 491.1 26 490 27.1 490C28.2 490 29.3 490.3 30.5 490.9C31.6 491.4 32.6 492.9 33.9 493.4C35.1 493.9 36.7 494 38.1 493.9C39.5 493.8 41 493.2 42.3 492.5C43.6 491.9 44.6 490.7 45.7 490C46.8 489.3 47.8 488.7 49.1 488.3C50.4 487.9 52 488 53.3 487.5C54.6 486.9 55.7 486.2 56.7 484.9C57.7 483.7 58.4 481.3 59.2 479.9C60.1 478.4 60.9 476.8 61.8 476.1C62.6 475.4 63.5 475.3 64.3 475.6C65.2 476 66 477 66.9 478.2C67.7 479.3 68.5 481.1 69.4 482.4C70.2 483.7 71.1 485.3 71.9 485.8C72.8 486.3 73.6 486.1 74.5 485.4C75.3 484.7 76.2 482.6 77 481.5C77.9 480.5 78.7 479.6 79.5 479C80.4 478.4 81.2 477.9 82.1 478.2C82.9 478.4 83.8 479.1 84.6 480.4C85.5 481.6 86.3 484 87.2 485.8C88 487.5 88.9 489.4 89.7 490.9C90.6 492.3 91.3 493.7 92.2 494.2C93.2 494.8 94.5 494.7 95.6 494.2C96.8 493.8 97.9 492.8 99 491.7C100.1 490.6 101.3 488.9 102.4 487.5C103.5 486.1 104.7 484.5 105.8 483.2C106.9 482 108 480.9 109.2 479.9C110.3 478.8 111.5 477.6 112.7 477C113.8 476.3 115.1 475.9 116.1 476C117.1 476 117.8 476.5 118.6 477.3C119.5 478.2 120.3 479.5 121.2 481C122 482.6 122.8 484.7 123.7 486.6C124.5 488.5 125.4 491.2 126.2 492.5C127.1 493.9 127.9 494.3 128.8 494.6C129.6 494.9 130.5 494.7 131.3 494.2C132.2 493.8 133 492.7 133.9 491.7C134.7 490.7 135.5 489.2 136.4 488.3C137.2 487.4 138.1 486.6 138.9 486.3C139.8 486 140.6 486.1 141.5 486.6C142.3 487.1 143.2 487.9 144 489.2C144.9 490.4 145.7 492.6 146.5 494.2C147.4 495.9 148.2 497.8 149.1 499C149.9 500.1 150.8 500.8 151.6 501C152.5 501.2 153.2 500.4 154.2 500.2C155.1 499.9 156.4 499.5 157.5 499.7C158.7 499.9 159.8 500.4 160.9 501.3C162.1 502.3 163.2 503.9 164.3 505.2C165.4 506.6 166.6 508.3 167.7 509.5C168.8 510.6 169.8 511.4 171.1 512C172.4 512.6 173.9 512.8 175.3 512.9C176.7 512.9 178.1 512.8 179.5 512.5C181 512.2 182.4 511.7 183.8 511.2C185.2 510.6 186.6 509.8 188 509.1C189.4 508.5 190.8 507.9 192.2 507.4C193.7 507 195.1 506.7 196.5 506.4C197.9 506.2 199.3 506 200.7 506.1C202.1 506.2 203.5 506.6 204.9 506.9C206.3 507.3 207.8 507.8 209.2 508.3C210.5 508.8 212.4 509.6 213.1 509.8" fill="none" stroke="#70ad47" stroke-width="1.6" stroke-linejoin="round" stroke-linecap="round"/>
<path d="M232.6 494.2C233.3 494.5 235.4 495.3 236.8 495.6C238.3 495.9 239.7 496.2 241.1 495.9C242.5 495.7 244 494.9 245.3 494.2C246.6 493.5 247.6 492.3 248.7 491.7C249.8 491.1 251 490.7 252.1 490.9C253.2 491.1 254.3 492.1 255.5 492.9C256.6 493.7 257.6 494.9 258.9 495.6C260.1 496.2 261.7 496.9 263.1 496.8C264.5 496.7 266 495.6 267.3 495.1C268.6 494.5 269.6 493.7 270.7 493.4C271.8 493.1 273 493 274.1 493.4C275.2 493.8 276.3 494.7 277.5 495.6C278.6 496.4 279.7 497.7 280.9 498.5C282 499.2 283.1 499.9 284.2 500.2C285.4 500.4 286.5 500.4 287.6 500.2C288.8 500 289.9 499.5 291 499C292.1 498.4 293.3 497.6 294.4 496.8C295.5 496 296.7 495.2 297.8 494.2C298.9 493.3 300.2 492.1 301.2 490.9C302.2 489.6 302.9 488.2 303.7 486.6C304.5 485.1 305.4 482.9 306.2 481.5C307.1 480.2 307.9 479.2 308.8 478.7C309.6 478.1 310.5 478 311.3 478.2C312.2 478.4 313 479.1 313.9 479.9C314.7 480.6 315.4 481.1 316.4 482.4C317.4 483.7 318.7 485.5 319.8 487.5C320.9 489.4 322 491.8 323.2 494.2C324.3 496.6 325.4 499.6 326.6 501.9C327.7 504.1 328.8 506 329.9 507.8C331.1 509.6 332.2 511.4 333.3 512.5C334.4 513.6 335.3 513.6 336.7 514.5C338.1 515.5 340.4 517.1 341.8 517.9C343.2 518.8 344 519.3 345.2 519.6C346.3 520 347.4 520.3 348.5 520.1C349.7 520 350.7 519.3 351.9 518.8C353.2 518.3 354.7 517.5 356.2 517.1C357.6 516.7 359 516.6 360.4 516.6C361.8 516.6 363.2 516.9 364.6 517.1C366 517.3 367.4 517.9 368.9 517.9C370.3 517.9 371.7 517.5 373.1 517.1C374.5 516.7 376 516 377.3 515.4C378.6 514.8 379.6 514.1 380.7 513.7C381.8 513.3 383 512.9 384.1 512.9C385.2 512.9 386.3 513.4 387.5 513.7C388.6 514 389.7 514.9 390.9 514.9C392 514.9 393.1 514.5 394.2 513.7C395.4 512.9 396.5 511.3 397.6 510.3C398.8 509.3 399.9 508.3 401 507.8C402.1 507.2 403.3 507.1 404.4 506.9C405.5 506.8 406.7 507 407.8 506.9C408.9 506.9 410 506.8 411.2 506.6C412.3 506.4 413.4 506.3 414.5 505.7C415.7 505.2 417.1 504.5 417.9 503.5C418.8 502.6 419.1 501.7 419.6 500.2C420.1 498.6 420.5 495.9 421 494.2C421.5 492.5 421.9 490.9 422.7 490C423.4 489.1 424.4 489.1 425.6 488.8C426.7 488.5 428.2 488.5 429.8 488.3C431.3 488.2 433.2 488 434.9 488C436.6 487.9 438.2 488 439.9 488C441.6 488 444.2 488 445 488" fill="none" stroke="#151515" stroke-width="1.6" stroke-linejoin="round" stroke-linecap="round"/>
<path d="M232.6 493.9C233.2 494.5 234.9 496.8 236 497.6C237.1 498.5 238.3 498.8 239.4 499C240.5 499.1 241.6 499.1 242.8 498.5C243.9 497.8 245 496.2 246.2 495.1C247.3 494 248.4 492.4 249.5 491.7C250.7 491 251.8 490.9 252.9 490.9C254.1 490.9 255.2 491.4 256.3 491.7C257.4 492 258.6 492.8 259.7 492.5C260.8 492.3 262 490.8 263.1 490C264.2 489.2 265.3 488.3 266.5 488C267.6 487.6 268.7 487.5 269.9 487.8C271 488.1 272.1 488.8 273.2 490C274.4 491.2 275.5 493.5 276.6 495.1C277.8 496.6 279 498.5 280 499.3C281 500.2 281.7 500.4 282.5 500.2C283.4 499.9 284.2 498.8 285.1 497.6C285.9 496.5 286.8 494.7 287.6 493.4C288.5 492.1 289.3 490.7 290.2 490C291 489.4 291.9 488.9 292.7 489.5C293.5 490.1 294.4 491.8 295.2 493.4C296.1 495 296.9 497.7 297.8 499C298.6 500.2 299.5 501.4 300.3 501C301.2 500.6 302 498.8 302.9 496.8C303.7 494.8 304.5 491.7 305.4 489.2C306.2 486.6 307.1 483.7 307.9 481.5C308.8 479.4 309.6 477.6 310.5 476.5C311.3 475.3 312.2 475 313 474.8C313.9 474.6 314.6 475 315.6 475.3C316.5 475.6 317.9 476.6 318.9 476.5C319.9 476.4 320.6 475.5 321.5 474.8C322.3 474.1 323.2 472.1 324 472.2C324.9 472.4 325.7 473.6 326.6 475.6C327.4 477.6 328.2 481 329.1 484.1C329.9 487.2 330.8 491.3 331.6 494.2C332.5 497.2 333.3 500 334.2 501.9C335 503.7 335.7 504.5 336.7 505.2C337.7 506 339 506.1 340.1 506.4C341.2 506.8 342.3 507.2 343.5 507.4C344.6 507.7 345.7 507.6 346.8 507.8C348 508 349.2 508.8 350.2 508.6C351.2 508.5 351.9 507.4 352.8 506.9C353.6 506.5 354.3 506 355.3 506.1C356.3 506.2 357.6 507.1 358.7 507.4C359.8 507.8 361 508.5 362.1 508.1C363.2 507.8 364.5 506 365.5 505.2C366.5 504.5 367.2 503.7 368 503.5C368.9 503.4 369.7 503.7 370.5 504.4C371.4 505.1 372.2 506.7 373.1 507.8C373.9 508.9 374.6 510.2 375.6 511.2C376.6 512.1 377.9 512.9 379 513.4C380.1 513.9 381.4 514.2 382.4 514.2C383.4 514.3 384.2 514.2 384.9 513.7C385.6 513.2 386.1 512.2 386.6 511.2C387.2 510.2 387.6 508.6 388.3 507.8C389 506.9 389.9 506.4 390.9 506.1C391.8 505.8 393 506.1 394.2 506.1C395.5 506 397.1 505.8 398.5 505.7C399.9 505.7 401.3 505.6 402.7 505.7C404.1 505.9 405.5 506.6 406.9 506.9C408.3 507.3 409.8 507.6 411.2 507.8C412.6 508 414 508 415.4 508.1C416.8 508.3 418.2 508.5 419.6 508.6C421 508.7 422.4 508.7 423.9 508.6C425.3 508.6 426.5 508.5 428.1 508.3C429.6 508.1 431.5 507.8 433.2 507.4C434.9 507.1 436.3 506.7 438.2 506.1C440.2 505.5 443.9 504.4 445 504.1" fill="none" stroke="#fa0f14" stroke-width="1.6" stroke-linejoin="round" stroke-linecap="round"/>
<path d="M232.6 487.5C233 488 234.2 489.8 235.2 490.5C236.1 491.2 237.4 491.9 238.5 491.7C239.7 491.5 240.8 490.1 241.9 489.2C243.1 488.3 244.3 486.6 245.3 486.3C246.3 486 247 486.3 247.8 487.5C248.7 488.7 249.5 491.5 250.4 493.4C251.2 495.3 252.1 497.8 252.9 499C253.8 500.1 254.6 500.7 255.5 500.2C256.3 499.7 257.2 497.3 258 495.9C258.9 494.5 259.6 492.7 260.5 491.7C261.5 490.7 262.8 490.3 263.9 490C265.1 489.7 266.2 489.9 267.3 490C268.4 490.1 269.6 490.5 270.7 490.5C271.8 490.5 273 490.4 274.1 490C275.2 489.6 276.3 488.9 277.5 488.3C278.6 487.8 279.9 487.5 280.9 486.6C281.8 485.8 282.5 484.4 283.4 483.2C284.2 482.1 285.1 480.6 285.9 479.9C286.8 479.1 287.6 478.6 288.5 478.7C289.3 478.8 290.2 479.2 291 480.4C291.9 481.5 292.7 483.6 293.5 485.8C294.4 487.9 295.2 491 296.1 493.4C296.9 495.8 297.8 498.3 298.6 500.2C299.5 502 300.3 503.4 301.2 504.4C302 505.4 302.9 506.4 303.7 506.1C304.5 505.8 305.4 504.5 306.2 502.7C307.1 500.9 307.9 497.3 308.8 495.1C309.6 492.8 310.5 490.8 311.3 489.2C312.2 487.6 313 486.1 313.9 485.4C314.7 484.7 315.6 484.4 316.4 484.9C317.2 485.4 317.9 486.8 318.9 488.3C319.9 489.9 321.2 492 322.3 494.2C323.4 496.5 324.6 499.5 325.7 501.9C326.8 504.3 328 506.7 329.1 508.6C330.2 510.6 331.3 512.3 332.5 513.7C333.6 515.1 334.7 516.2 335.9 517.1C337 517.9 338.4 518.1 339.2 518.8C340.1 519.5 340.2 520.2 340.9 521.3C341.6 522.4 342.7 524.5 343.5 525.6C344.2 526.6 344.8 527.9 345.5 527.8C346.2 527.6 346.9 525.9 347.7 524.7C348.5 523.5 349.4 521.4 350.2 520.5C351.1 519.6 351.9 519.4 352.8 519.3C353.6 519.1 354.3 519.3 355.3 519.6C356.3 519.9 357.6 520.7 358.7 521C359.8 521.3 361.1 521.7 362.1 521.3C363.1 521 363.8 519.9 364.6 518.8C365.5 517.7 366.3 515.5 367.2 514.5C368 513.6 368.9 512.9 369.7 512.9C370.5 512.9 371.4 514.1 372.2 514.5C373.1 515 373.9 516 374.8 515.4C375.6 514.8 376.5 512.4 377.3 511.2C378.2 510 379 508.4 379.9 508.1C380.7 507.8 381.5 508.7 382.4 509.5C383.2 510.3 384.1 512.2 384.9 512.9C385.8 513.6 386.8 514.3 387.5 513.7C388.2 513.1 388.5 510.7 389.2 509.5C389.9 508.3 390.7 507 391.7 506.4C392.7 505.9 393.8 506.1 395.1 506.1C396.4 506.1 397.9 506.3 399.3 506.6C400.7 506.9 402.1 507.4 403.5 507.8C405 508.1 406.5 508.5 407.8 508.6C409 508.8 410.3 509 411.2 508.6C412.1 508.2 412.8 507.5 413.2 506.1C413.6 504.7 413.3 502.1 413.7 500.2C414.1 498.2 414.5 495.9 415.4 494.2C416.2 492.5 417.5 491.3 418.8 490C420 488.7 421.6 487.6 423 486.6C424.4 485.7 425.8 485 427.2 484.4C428.7 483.9 430.1 483.4 431.5 483.2C432.9 483 434.3 483.1 435.7 483.2C437.1 483.4 438.7 483.7 439.9 484.1C441.2 484.5 442.5 485.2 443.3 485.8C444.2 486.3 444.7 487.2 445 487.5" fill="none" stroke="#12aeee" stroke-width="1.6" stroke-linejoin="round" stroke-linecap="round"/>
<path d="M232.6 492.5C233.2 492.9 234.9 493.9 236 494.6C237.1 495.3 238.3 496.6 239.4 496.8C240.5 497 241.6 496.5 242.8 495.9C243.9 495.4 245 494.4 246.2 493.4C247.3 492.4 248.4 490.9 249.5 490C250.7 489.1 251.8 488.2 252.9 487.8C254.1 487.4 255.2 487.4 256.3 487.8C257.4 488.2 258.6 488.9 259.7 490C260.8 491.1 262 492.8 263.1 494.2C264.2 495.6 265.3 497.5 266.5 498.5C267.6 499.5 268.9 500.2 269.9 500.2C270.8 500.2 271.5 499.6 272.4 498.5C273.2 497.3 273.9 494.6 274.9 493.4C275.9 492.2 277.3 491.2 278.3 491.4C279.3 491.5 280 493 280.9 494.2C281.7 495.5 282.4 497.9 283.4 499C284.4 500 285.6 500.6 286.8 500.7C287.9 500.7 289 500.2 290.2 499.3C291.3 498.4 292.4 496.6 293.5 495.1C294.7 493.5 295.8 491.7 296.9 490C298.1 488.3 299.2 486.5 300.3 484.9C301.4 483.3 302.6 481.7 303.7 480.4C304.8 479 306 477.8 307.1 477C308.2 476.1 309.3 475.6 310.5 475.3C311.6 475 312.7 475 313.9 475.3C315 475.6 316.1 476.6 317.2 477C318.4 477.3 319.5 477.4 320.6 477.3C321.8 477.2 322.9 476.2 324 476.5C325.1 476.7 326.3 478 327.4 478.7C328.5 479.4 329.7 480.2 330.8 480.7C331.9 481.2 333.2 480.8 334.2 481.5C335.2 482.2 336 483 336.7 484.9C337.4 486.9 337.8 490.6 338.4 493.4C339 496.2 339.4 500 340.1 501.9C340.8 503.7 341.8 504.2 342.6 504.4C343.5 504.6 344.3 503.3 345.2 503.2C346 503.1 346.8 502.8 347.7 503.5C348.5 504.3 349.4 506.4 350.2 507.8C351.1 509.2 351.9 511.1 352.8 512C353.6 512.9 354.3 513.3 355.3 513.2C356.3 513.1 357.6 512.1 358.7 511.2C359.8 510.3 361 508.9 362.1 507.8C363.2 506.7 364.3 505.5 365.5 504.7C366.6 504 367.9 503.3 368.9 503.2C369.8 503.1 370.5 503.6 371.4 504.1C372.2 504.5 373.1 506.1 373.9 506.1C374.8 506.1 375.6 504.6 376.5 504.1C377.3 503.5 378 502.9 379 502.7C380 502.5 381.3 502.5 382.4 502.7C383.5 502.9 384.6 503.5 385.8 504.1C386.9 504.6 388 505.5 389.2 505.7C390.3 506 391.6 506.3 392.5 505.7C393.5 505.2 394.2 503.6 395.1 502.7C395.9 501.8 396.6 500.7 397.6 500.2C398.6 499.6 399.9 499.3 401 499.3C402.1 499.3 403.1 499.9 404.4 500.2C405.7 500.4 407.2 500.7 408.6 501C410 501.3 411.4 501.6 412.9 501.9C414.3 502.1 415.7 502.4 417.1 502.4C418.5 502.3 419.8 501.7 421.3 501.3C422.9 501 424.7 500.4 426.4 500.2C428.1 499.9 429.8 499.7 431.5 499.7C433.2 499.7 434.9 499.8 436.6 500.2C438.2 500.5 440.2 501.4 441.6 501.9C443 502.3 444.4 502.8 445 503" fill="none" stroke="#70ad47" stroke-width="1.6" stroke-linejoin="round" stroke-linecap="round"/>
<path d="M464.7 497.6C465.4 497.8 467.1 498.5 468.5 498.5C469.8 498.5 471.4 498.5 472.7 497.6C474 496.8 475.1 494.6 476.1 493.4C477.1 492.2 477.8 491.1 478.6 490.5C479.5 490 480.3 489.5 481.2 490C482 490.5 482.8 492 483.7 493.4C484.5 494.8 485.4 497.5 486.2 498.5C487.1 499.4 487.9 499.4 488.8 499C489.6 498.6 490.5 497 491.3 495.9C492.2 494.9 492.9 493.3 493.9 492.5C494.8 491.8 496.1 491.6 497.2 491.7C498.4 491.8 499.5 492.8 500.6 493.4C501.7 494 502.9 494.8 504 495.1C505.1 495.4 506.3 495.5 507.4 495.1C508.5 494.7 509.9 494.1 510.8 492.5C511.7 491 512.2 487.8 512.8 485.8C513.4 483.8 513.9 481.7 514.5 480.7C515.1 479.7 516 479.6 516.7 479.9C517.4 480.1 518.2 481.1 518.9 482.4C519.6 483.7 520.2 485.6 520.9 487.5C521.7 489.3 522.6 491.6 523.5 493.4C524.3 495.2 525.2 496.9 526 498.5C526.9 500 527.7 501.7 528.5 502.7C529.4 503.7 530.1 504.2 531.1 504.4C532.1 504.6 533.5 504.2 534.5 504.1C535.5 503.9 536.2 503.2 537 503.5C537.9 503.9 538.7 505 539.5 506.1C540.4 507.2 541.2 509.1 542.1 510.3C542.9 511.5 543.6 512.4 544.6 513.2C545.6 514 546.7 514.4 548 514.9C549.3 515.4 550.8 515.9 552.2 516.2C553.7 516.6 555.2 516.7 556.5 517.1C557.7 517.5 558.9 517.7 559.9 518.8C560.8 519.9 561.7 522 562.4 523.9C563.1 525.7 563.4 528.4 564.1 529.8C564.8 531.2 565.6 531.8 566.6 532.3C567.6 532.8 568.7 532.5 570 532.7C571.3 532.8 573.2 533.6 574.3 533.2C575.4 532.7 576 531.3 576.8 529.8C577.7 528.2 578.5 525.6 579.4 523.9C580.2 522.2 580.9 520.5 581.9 519.6C582.9 518.8 584.2 518.8 585.3 518.8C586.4 518.8 587.7 519.8 588.7 519.6C589.7 519.5 590.4 518.4 591.2 517.9C592.1 517.4 592.9 516.6 593.8 516.6C594.6 516.6 595.5 517.3 596.3 517.9C597.2 518.5 597.9 519.7 598.9 520.1C599.8 520.6 600.8 520.5 602.2 520.5C603.6 520.4 605.6 520.2 607.3 520C609 519.7 610.7 519.4 612.4 519.1C614.1 518.9 615.9 518.6 617.5 518.4C619 518.3 620.3 518.1 621.7 518.3C623.1 518.5 624.5 519.3 625.9 519.6C627.3 519.9 629 520.4 630.2 520.1C631.3 519.9 631.9 518.5 632.7 517.9C633.5 517.3 634.4 516.6 635.2 516.6C636.1 516.5 636.8 517.1 637.8 517.6C638.8 518 640 519.1 641.2 519.3C642.3 519.5 643.4 519.3 644.5 518.8C645.7 518.3 646.8 517.3 647.9 516.2C649.1 515.2 650.2 513.6 651.3 512.5C652.4 511.4 653.6 510.3 654.7 509.8C655.8 509.3 657 509.2 658.1 509.5C659.2 509.7 660.3 510.7 661.5 511.2C662.6 511.7 663.7 512.4 664.9 512.5C666 512.7 667.1 512.5 668.2 512C669.4 511.5 670.5 510.5 671.6 509.5C672.8 508.4 674.2 506.7 675 505.7C675.9 504.8 676.4 504.3 676.7 504.1" fill="none" stroke="#151515" stroke-width="1.6" stroke-linejoin="round" stroke-linecap="round"/>
<path d="M464.7 497.6C465.4 497.2 467.3 495.8 468.5 495.1C469.6 494.4 470.7 494 471.8 493.4C473 492.8 474.1 491.8 475.2 491.7C476.4 491.6 477.5 492.2 478.6 492.9C479.7 493.5 480.9 495.4 482 495.6C483.1 495.8 484.3 495.2 485.4 494.2C486.5 493.3 487.6 491 488.8 490C489.9 489 491 488.3 492.2 488.3C493.3 488.3 494.4 489.6 495.5 490C496.7 490.4 497.8 490.9 498.9 490.9C500.1 490.8 501.2 490 502.3 489.5C503.4 489 504.6 488.3 505.7 487.8C506.8 487.3 508 486.7 509.1 486.6C510.2 486.6 511.3 486.9 512.5 487.5C513.6 488 514.9 489.4 515.9 490C516.8 490.6 517.5 491.1 518.4 490.9C519.2 490.6 520.1 489.2 520.9 488.3C521.8 487.5 522.6 486.2 523.5 485.8C524.3 485.4 525.2 485.2 526 485.8C526.9 486.3 527.6 487.8 528.5 489.2C529.5 490.6 530.8 492.9 531.9 494.2C533.1 495.6 534.2 496.9 535.3 497.3C536.4 497.7 537.6 497.2 538.7 496.8C539.8 496.3 541 495.1 542.1 494.6C543.2 494.1 544.3 493.8 545.5 493.9C546.6 494 547.7 494.5 548.9 495.1C550 495.6 551.1 496.7 552.2 497.3C553.4 497.8 554.5 498.4 555.6 498.5C556.8 498.6 557.9 498.1 559 498C560.1 497.8 561.3 497.5 562.4 497.6C563.5 497.7 564.7 497.8 565.8 498.5C566.9 499.1 567.6 499.9 569.2 501.3C570.7 502.8 573.6 506.1 575.2 506.9C576.7 507.7 577.4 506.8 578.5 506.1C579.7 505.4 580.8 503.8 581.9 502.7C583.1 501.6 584.2 500.2 585.3 499.3C586.4 498.5 587.7 497.8 588.7 497.6C589.7 497.4 590.4 497.7 591.2 498.1C592.1 498.6 592.8 499.3 593.8 500.2C594.8 501.1 596 502.7 597.2 503.5C598.3 504.4 599.3 505 600.5 505.2C601.8 505.5 603.4 505.3 604.8 505.2C606.2 505.2 607.7 504.6 609 504.7C610.3 504.9 611.3 505.3 612.4 506.1C613.5 506.9 614.6 508.5 615.8 509.5C616.9 510.5 618 511.4 619.2 512C620.3 512.6 621.4 513.2 622.5 513.2C623.7 513.2 624.8 512.5 625.9 512C627.1 511.5 628.2 510.6 629.3 510.3C630.4 510 631.6 510.2 632.7 510.3C633.8 510.5 634.8 510.9 636.1 511.2C637.4 511.4 638.9 511.7 640.3 512C641.7 512.3 643.1 512.9 644.5 512.9C646 512.9 647.4 512.4 648.8 512C650.2 511.6 651.6 510.8 653 510.3C654.4 509.8 655.8 509.4 657.2 509.1C658.7 508.9 659.9 508.6 661.5 508.6C663 508.6 664.9 509 666.6 509.1C668.2 509.3 669.9 509.3 671.6 509.5C673.3 509.7 675.9 510.2 676.7 510.3" fill="none" stroke="#fa0f14" stroke-width="1.6" stroke-linejoin="round" stroke-linecap="round"/>
<path d="M464.7 500.2C465.2 499.5 466.6 497.2 467.6 495.9C468.7 494.7 469.9 493.5 471 492.5C472.1 491.6 473.3 490.1 474.4 490C475.5 489.9 476.6 490.9 477.8 491.7C478.9 492.5 480 494.4 481.2 495.1C482.3 495.8 483.4 496.2 484.5 495.9C485.7 495.6 486.8 494.2 487.9 493.4C489.1 492.5 490.2 491.4 491.3 490.9C492.4 490.3 493.6 489.9 494.7 490C495.8 490.1 497 491.1 498.1 491.7C499.2 492.3 500.3 493.4 501.5 493.4C502.6 493.4 503.9 492.7 504.9 491.7C505.8 490.7 506.4 488.9 507.4 487.5C508.4 486.1 509.6 484.5 510.8 483.2C511.9 482 513 480.6 514.2 479.9C515.3 479.1 516.6 478.6 517.5 479C518.5 479.4 519.2 480.4 520.1 482.4C520.9 484.4 521.8 487.9 522.6 490.9C523.5 493.8 524.3 497.6 525.2 500.2C526 502.7 526.9 504.9 527.7 506.1C528.5 507.3 529.4 507.4 530.2 507.4C531.1 507.4 531.9 506 532.8 506.1C533.6 506.1 534.5 506.9 535.3 507.8C536.2 508.6 536.9 509.9 537.9 511.2C538.8 512.4 540.1 514.3 541.2 515.4C542.4 516.5 543.5 517.4 544.6 517.9C545.8 518.5 547 518.5 548 518.8C549 519.1 549.7 518.8 550.6 519.6C551.4 520.5 552.2 522.8 553.1 523.9C553.9 524.9 554.8 525.9 555.6 526.1C556.5 526.2 557.2 525.4 558.2 524.7C559.2 524 560.4 522.2 561.6 521.7C562.7 521.1 563.9 520.7 564.9 521.3C565.9 522 566.6 523.7 567.5 525.6C568.3 527.4 569.2 530.2 570 532.3C570.9 534.4 571.9 537 572.6 538.2C573.3 539.5 573.7 540.1 574.3 539.9C574.9 539.8 575.3 539.2 576 537.4C576.7 535.6 577.7 531.5 578.5 528.9C579.4 526.4 580.1 523.9 581.1 522.2C582.1 520.5 583.3 519.3 584.5 518.8C585.6 518.2 586.7 518.5 587.8 518.8C589 519.1 590.1 519.8 591.2 520.5C592.4 521.1 593.6 522.2 594.6 522.7C595.6 523.1 596.3 523.4 597.2 523C598 522.6 598.9 521.5 599.7 520.5C600.5 519.5 601.2 517.9 602.2 517.1C603.2 516.2 604.5 515.5 605.6 515.4C606.7 515.3 607.9 515.7 609 516.2C610.1 516.8 611.1 517.9 612.4 518.8C613.7 519.6 615.4 520.7 616.6 521.3C617.9 522 618.9 522.7 620 522.7C621.1 522.7 622.3 522.1 623.4 521.3C624.5 520.5 625.6 519.1 626.8 517.9C627.9 516.7 629.2 515.1 630.2 514.2C631.1 513.4 631.7 512.9 632.7 512.9C633.7 512.9 635 513.5 636.1 514.2C637.2 514.9 638.3 516.4 639.5 517.1C640.6 517.8 641.7 518.3 642.9 518.3C644 518.3 645.1 517.7 646.2 517.1C647.4 516.5 648.5 515.5 649.6 514.5C650.8 513.6 651.7 512.3 653 511.2C654.3 510 655.8 508.8 657.2 507.8C658.7 506.8 660.1 505.9 661.5 505.2C662.9 504.5 664.3 504 665.7 503.5C667.1 503.1 668.5 502.8 669.9 502.7C671.3 502.6 673 502.9 674.2 503.2C675.3 503.5 676.3 504.5 676.7 504.7" fill="none" stroke="#12aeee" stroke-width="1.6" stroke-linejoin="round" stroke-linecap="round"/>
<path d="M464.7 499.3C465.2 498.5 466.7 495.8 467.6 494.2C468.5 492.7 469.2 491 470.2 490C471.1 489 472.4 488 473.5 488.3C474.7 488.6 475.8 490 476.9 491.7C478.1 493.4 479.3 496.9 480.3 498.5C481.3 500.1 482 501.3 482.8 501.3C483.7 501.3 484.5 500.1 485.4 498.5C486.2 496.9 487.1 493.5 487.9 491.7C488.8 489.9 489.5 488.5 490.5 487.8C491.5 487.1 492.7 487.1 493.9 487.5C495 487.8 496.1 489 497.2 490C498.4 491 499.6 492.7 500.6 493.4C501.6 494.1 502.3 494.5 503.2 494.2C504 494 504.9 492.7 505.7 491.7C506.5 490.7 507.4 489.2 508.2 488.3C509.1 487.5 509.9 486.6 510.8 486.6C511.6 486.6 512.5 487.2 513.3 488.3C514.2 489.4 515 491.8 515.9 493.4C516.7 495 517.5 497 518.4 498C519.2 498.9 520.1 499.5 520.9 499C521.8 498.5 522.6 496.9 523.5 495.1C524.3 493.3 525.2 490.2 526 488.3C526.9 486.4 527.6 484.7 528.5 483.7C529.5 482.8 530.8 482.2 531.9 482.4C533.1 482.6 534.3 483.7 535.3 484.9C536.3 486.2 537 488.3 537.9 490C538.7 491.7 539.5 493.7 540.4 495.1C541.2 496.5 542.1 498 542.9 498.5C543.8 498.9 544.6 498.8 545.5 498C546.3 497.1 547.2 495 548 493.4C548.9 491.8 549.7 489.4 550.6 488.3C551.4 487.3 552.2 486.8 553.1 487.1C553.9 487.4 554.8 488.5 555.6 490C556.5 491.5 557.3 494.4 558.2 495.9C559 497.5 559.9 499.2 560.7 499.3C561.6 499.5 562.4 498.2 563.2 496.8C564.1 495.4 564.9 492.3 565.8 490.9C566.6 489.4 567.5 488.1 568.3 487.8C569.2 487.5 570.1 488.5 570.9 488.8C571.6 489.2 571.8 489.1 572.6 490C573.5 490.9 574.9 492.8 576 494.2C577.1 495.6 578.3 497.5 579.4 498.5C580.5 499.5 581.6 500.3 582.8 500.2C583.9 500 585 498.9 586.2 497.6C587.3 496.4 588.6 493.9 589.5 492.5C590.5 491.2 591.2 489.9 592.1 489.5C592.9 489.1 593.8 489.1 594.6 490C595.5 490.9 596.3 493.3 597.2 495.1C598 496.9 598.9 499.6 599.7 501C600.5 502.4 601.2 503.1 602.2 503.5C603.2 504 604.5 503.5 605.6 503.5C606.7 503.6 607.9 503.6 609 504.1C610.1 504.5 611.3 505.7 612.4 506.1C613.5 506.4 614.8 506.4 615.8 506.1C616.8 505.7 617.5 504.6 618.3 504.1C619.2 503.5 620 502.8 620.9 503C621.7 503.2 622.5 504.3 623.4 505.2C624.2 506.2 624.9 507.8 625.9 508.6C626.9 509.5 628.2 510 629.3 510.3C630.4 510.6 631.4 510.5 632.7 510.3C634 510.1 635.5 509.6 636.9 509.1C638.3 508.7 639.8 508 641.2 507.4C642.6 506.9 644 506.3 645.4 505.7C646.8 505.2 648.2 504.5 649.6 504.1C651 503.6 652.6 503.1 653.9 503C655.1 503 656.3 503.1 657.2 503.5C658.2 504 658.8 505 659.8 505.7C660.8 506.5 662 507.4 663.2 507.8C664.3 508.1 665.3 508.1 666.6 507.8C667.8 507.5 669.4 506.7 670.8 506.1C672.2 505.5 674 504.6 675 504.1C676 503.5 676.4 503.2 676.7 503" fill="none" stroke="#70ad47" stroke-width="1.6" stroke-linejoin="round" stroke-linecap="round"/>
<path d="M44.1 34.4V146.2" fill="none" stroke="#111" stroke-width="1.65"/>
<path d="M4 90.6H216.7" fill="none" stroke="#111" stroke-width="1.4"/>
<path d="M44.3 42h6.6M44.3 66.3h6.6M44.3 114.9h6.6M44.3 139.2h6.6M22.6 90.6v-6.4M66 90.6v-6.4M87.7 90.6v-6.4M109.5 90.6v-6.4M131.2 90.6v-6.4M152.9 90.6v-6.4M174.6 90.6v-6.4M196.3 90.6v-6.4" fill="none" stroke="#111" stroke-width="1.3"/>
<path d="M276.9 34.2V146" fill="none" stroke="#111" stroke-width="1.65"/>
<path d="M236.8 90.4H449.2" fill="none" stroke="#111" stroke-width="1.4"/>
<path d="M277 41.8h6.6M277 66.1h6.6M277 114.7h6.6M277 139h6.6M255.3 90.4v-6.4M298.7 90.4v-6.4M320.4 90.4v-6.4M342.2 90.4v-6.4M363.9 90.4v-6.4M385.6 90.4v-6.4M407.3 90.4v-6.4M429 90.4v-6.4" fill="none" stroke="#111" stroke-width="1.3"/>
<path d="M507.2 34.4V146.2" fill="none" stroke="#111" stroke-width="1.65"/>
<path d="M468 90.6H680" fill="none" stroke="#111" stroke-width="1.4"/>
<path d="M507.3 42h6.6M507.3 66.3h6.6M507.3 114.9h6.6M507.3 139.2h6.6M485.6 90.6v-6.4M529 90.6v-6.4M550.7 90.6v-6.4M572.5 90.6v-6.4M594.2 90.6v-6.4M615.9 90.6v-6.4M637.6 90.6v-6.4M659.3 90.6v-6.4" fill="none" stroke="#111" stroke-width="1.3"/>
<path d="M43.9 237.9V349.7" fill="none" stroke="#111" stroke-width="1.65"/>
<path d="M4.2 294.1H215.9" fill="none" stroke="#111" stroke-width="1.4"/>
<path d="M44 245.5h6.6M44 269.8h6.6M44 318.4h6.6M44 342.7h6.6M22.3 294.1v-6.4M65.7 294.1v-6.4M87.4 294.1v-6.4M109.2 294.1v-6.4M130.9 294.1v-6.4M152.6 294.1v-6.4M174.3 294.1v-6.4M196 294.1v-6.4" fill="none" stroke="#111" stroke-width="1.3"/>
<path d="M276.4 237.5V349.3" fill="none" stroke="#111" stroke-width="1.65"/>
<path d="M236.8 293.7H448.3" fill="none" stroke="#111" stroke-width="1.4"/>
<path d="M276.5 245.1h6.6M276.5 269.4h6.6M276.5 318h6.6M276.5 342.3h6.6M254.8 293.7v-6.4M298.2 293.7v-6.4M319.9 293.7v-6.4M341.7 293.7v-6.4M363.4 293.7v-6.4M385.1 293.7v-6.4M406.8 293.7v-6.4M428.5 293.7v-6.4" fill="none" stroke="#111" stroke-width="1.3"/>
<path d="M508.6 237.4V349.2" fill="none" stroke="#111" stroke-width="1.65"/>
<path d="M468.4 293.6H680.9" fill="none" stroke="#111" stroke-width="1.4"/>
<path d="M508.7 245h6.6M508.7 269.3h6.6M508.7 317.9h6.6M508.7 342.2h6.6M487 293.6v-6.4M530.4 293.6v-6.4M552.1 293.6v-6.4M573.9 293.6v-6.4M595.6 293.6v-6.4M617.3 293.6v-6.4M639 293.6v-6.4M660.7 293.6v-6.4" fill="none" stroke="#111" stroke-width="1.3"/>
<path d="M40.9 438.8V550.6" fill="none" stroke="#111" stroke-width="1.65"/>
<path d="M0.8 495H213" fill="none" stroke="#111" stroke-width="1.4"/>
<path d="M41 446.4h6.6M41 470.7h6.6M41 519.3h6.6M41 543.6h6.6M19.3 495v-6.4M62.7 495v-6.4M84.4 495v-6.4M106.2 495v-6.4M127.9 495v-6.4M149.6 495v-6.4M171.3 495v-6.4M193 495v-6.4" fill="none" stroke="#111" stroke-width="1.3"/>
<path d="M272.6 438.7V550.5" fill="none" stroke="#111" stroke-width="1.65"/>
<path d="M232.6 494.9H445" fill="none" stroke="#111" stroke-width="1.4"/>
<path d="M272.7 446.3h6.6M272.7 470.6h6.6M272.7 519.2h6.6M272.7 543.5h6.6M251 494.9v-6.4M294.4 494.9v-6.4M316.1 494.9v-6.4M337.9 494.9v-6.4M359.6 494.9v-6.4M381.3 494.9v-6.4M403 494.9v-6.4M424.7 494.9v-6.4" fill="none" stroke="#111" stroke-width="1.3"/>
<path d="M504.8 438.7V550.5" fill="none" stroke="#111" stroke-width="1.65"/>
<path d="M464.7 494.9H676.7" fill="none" stroke="#111" stroke-width="1.4"/>
<path d="M504.9 446.3h6.6M504.9 470.6h6.6M504.9 519.2h6.6M504.9 543.5h6.6M483.2 494.9v-6.4M526.6 494.9v-6.4M548.3 494.9v-6.4M570.1 494.9v-6.4M591.8 494.9v-6.4M613.5 494.9v-6.4M635.2 494.9v-6.4M656.9 494.9v-6.4" fill="none" stroke="#111" stroke-width="1.3"/>
<text transform="translate(3.5 14.1) scale(0.925 1)" class="lab">FC1</text>
<text transform="translate(129.6 38.1) scale(0.925 1)" class="n4" text-anchor="middle">N400</text>
<text transform="translate(237.9 14.1) scale(0.925 1)" class="lab">Fz</text>
<text transform="translate(459.3 14.1) scale(0.925 1)" class="lab">FC2</text>
<text transform="translate(592.3 38.1) scale(0.925 1)" class="n4" text-anchor="middle">N400</text>
<text transform="translate(3.5 210.6) scale(0.925 1)" class="lab">C3</text>
<text transform="translate(129.1 241) scale(0.925 1)" class="n4" text-anchor="middle">N400</text>
<text transform="translate(236.3 210.6) scale(0.925 1)" class="lab">Cz</text>
<text transform="translate(361.3 240.6) scale(0.925 1)" class="n4" text-anchor="middle">N400</text>
<text transform="translate(459.8 210.5) scale(0.925 1)" class="lab">C4</text>
<text transform="translate(593 240.5) scale(0.925 1)" class="n4" text-anchor="middle">N400</text>
<text transform="translate(3.5 419.9) scale(0.925 1)" class="lab">CP1</text>
<text transform="translate(126.4 442.5) scale(0.925 1)" class="n4" text-anchor="middle">N400</text>
<text transform="translate(237.9 419.9) scale(0.925 1)" class="lab">Pz</text>
<text transform="translate(459.3 419.9) scale(0.925 1)" class="lab">CP2</text>
<path d="M327.9 613.6V750.7M282.2 682.1H521.3M327.9 627.7h7M327.9 654.8h7M327.9 709.5h7M327.9 736.9h7M303.5 682.1v-7M352.3 682.1v-7M376.6 682.1v-7M401 682.1v-7M425.4 682.1v-7M449.8 682.1v-7M474.1 682.1v-7M498.5 682.1v-7" fill="none" stroke="#111" stroke-width="1.4"/>
<text x="312.8" y="602.2" class="ax" style="font-size:12.4px">μV</text>
<text x="318" y="630.8" class="ax" text-anchor="end">4</text>
<text x="318" y="657.9" class="ax" text-anchor="end">2</text>
<text x="320.4" y="712.6" class="ax" text-anchor="end">2</text>
<text x="320.4" y="740" class="ax" text-anchor="end">4</text>
<path d="M306.3 627.9H311.2M306.3 655H311.2M290.9 694.4H296.7" stroke="#111" stroke-width="1.1" fill="none"/>
<text x="304.5" y="697.5" class="ax" text-anchor="middle">100</text>
<text x="376.6" y="697.5" class="ax" text-anchor="middle">200</text>
<text x="425.4" y="697.5" class="ax" text-anchor="middle">400</text>
<text x="474.1" y="697.5" class="ax" text-anchor="middle">600</text>
<text x="517.3" y="695.6" class="ax" style="font-size:11.6px">ms</text>
<rect x="556.2" y="640.9" width="148.8" height="80.2" fill="#fff" stroke="#3a3a3a" stroke-width="0.9"/>
<path d="M565.8 659.8H653" stroke="#111" stroke-width="1.9" fill="none"/>
<text transform="translate(663.1 664.2) scale(0.945 1)" class="leg">HFLC</text>
<path d="M565.8 673.9H653" stroke="#f5141a" stroke-width="1.9" fill="none"/>
<text transform="translate(663.1 678.3) scale(0.945 1)" class="leg">LFLC</text>
<path d="M565.8 687.1H653" stroke="#1eaeea" stroke-width="1.9" fill="none"/>
<text transform="translate(663.1 691.5) scale(0.945 1)" class="leg">HFMC</text>
<path d="M565.8 700.8H653" stroke="#72ae48" stroke-width="1.9" fill="none"/>
<text transform="translate(663.1 705.2) scale(0.945 1)" class="leg">LFMC</text>
<defs>
<filter id="jet" filterUnits="userSpaceOnUse" x="-70" y="-70" width="140" height="140" color-interpolation-filters="sRGB"><feComponentTransfer><feFuncR type="table" tableValues="0.000 0.000 0.000 0.000 0.000 0.000 0.000 0.000 0.078 0.510 1.000 1.000 1.000 1.000 1.000 0.784 0.502"/><feFuncG type="table" tableValues="0.000 0.000 0.000 0.251 0.502 0.753 1.000 1.000 1.000 1.000 1.000 0.753 0.502 0.251 0.000 0.000 0.000"/><feFuncB type="table" tableValues="0.561 0.784 1.000 1.000 1.000 1.000 1.000 0.549 0.078 0.000 0.000 0.000 0.000 0.000 0.000 0.000 0.000"/></feComponentTransfer></filter>
<filter id="b2_0" filterUnits="userSpaceOnUse" x="-110" y="-110" width="220" height="220" color-interpolation-filters="sRGB"><feGaussianBlur stdDeviation="2.0"/></filter>
<filter id="b3_0" filterUnits="userSpaceOnUse" x="-110" y="-110" width="220" height="220" color-interpolation-filters="sRGB"><feGaussianBlur stdDeviation="3.0"/></filter>
<filter id="b3_5" filterUnits="userSpaceOnUse" x="-110" y="-110" width="220" height="220" color-interpolation-filters="sRGB"><feGaussianBlur stdDeviation="3.5"/></filter>
<filter id="b4_0" filterUnits="userSpaceOnUse" x="-110" y="-110" width="220" height="220" color-interpolation-filters="sRGB"><feGaussianBlur stdDeviation="4.0"/></filter>
<filter id="b5_0" filterUnits="userSpaceOnUse" x="-110" y="-110" width="220" height="220" color-interpolation-filters="sRGB"><feGaussianBlur stdDeviation="5.0"/></filter>
<filter id="b6_0" filterUnits="userSpaceOnUse" x="-110" y="-110" width="220" height="220" color-interpolation-filters="sRGB"><feGaussianBlur stdDeviation="6.0"/></filter>
<filter id="b6_5" filterUnits="userSpaceOnUse" x="-110" y="-110" width="220" height="220" color-interpolation-filters="sRGB"><feGaussianBlur stdDeviation="6.5"/></filter>
<radialGradient id="gk"><stop offset="0.00" stop-color="#000" stop-opacity="1.000"/><stop offset="0.08" stop-color="#000" stop-opacity="0.969"/><stop offset="0.17" stop-color="#000" stop-opacity="0.882"/><stop offset="0.25" stop-color="#000" stop-opacity="0.755"/><stop offset="0.33" stop-color="#000" stop-opacity="0.607"/><stop offset="0.42" stop-color="#000" stop-opacity="0.458"/><stop offset="0.50" stop-color="#000" stop-opacity="0.325"/><stop offset="0.58" stop-color="#000" stop-opacity="0.216"/><stop offset="0.67" stop-color="#000" stop-opacity="0.135"/><stop offset="0.75" stop-color="#000" stop-opacity="0.080"/><stop offset="0.83" stop-color="#000" stop-opacity="0.044"/><stop offset="0.92" stop-color="#000" stop-opacity="0.023"/><stop offset="1.00" stop-color="#000" stop-opacity="0.000"/></radialGradient>
<radialGradient id="gw"><stop offset="0.00" stop-color="#fff" stop-opacity="1.000"/><stop offset="0.08" stop-color="#fff" stop-opacity="0.969"/><stop offset="0.17" stop-color="#fff" stop-opacity="0.882"/><stop offset="0.25" stop-color="#fff" stop-opacity="0.755"/><stop offset="0.33" stop-color="#fff" stop-opacity="0.607"/><stop offset="0.42" stop-color="#fff" stop-opacity="0.458"/><stop offset="0.50" stop-color="#fff" stop-opacity="0.325"/><stop offset="0.58" stop-color="#fff" stop-opacity="0.216"/><stop offset="0.67" stop-color="#fff" stop-opacity="0.135"/><stop offset="0.75" stop-color="#fff" stop-opacity="0.080"/><stop offset="0.83" stop-color="#fff" stop-opacity="0.044"/><stop offset="0.92" stop-color="#fff" stop-opacity="0.023"/><stop offset="1.00" stop-color="#fff" stop-opacity="0.000"/></radialGradient>
<clipPath id="hc"><circle cx="0" cy="0" r="54.2"/></clipPath>
<linearGradient id="cbg" x1="0" y1="1" x2="0" y2="0">
<stop offset="0.0000" stop-color="rgb(0,0,143)"/>
<stop offset="0.1250" stop-color="rgb(0,0,255)"/>
<stop offset="0.3750" stop-color="rgb(0,255,255)"/>
<stop offset="0.5000" stop-color="rgb(120,255,135)"/>
<stop offset="0.6250" stop-color="rgb(255,255,0)"/>
<stop offset="0.8750" stop-color="rgb(255,0,0)"/>
<stop offset="1.0000" stop-color="rgb(128,0,0)"/>
</linearGradient>
</defs>
<rect x="86" y="795.6" width="546.3" height="136" fill="#f7f7f7"/>
<g transform="translate(154.9 863)">
<g clip-path="url(#hc)"><g filter="url(#jet)"><rect x="-60" y="-60" width="120" height="120" fill="#888888"/>
<g><ellipse cx="34" cy="-4" rx="48" ry="54" transform="rotate(0 34 -4)" fill="url(#gw)" opacity="0.086"/></g>
<g filter="url(#b4_0)"><path d="M-80 7.5C-75.6 7.5 -60.3 7 -53.7 7.5C-47.1 8 -45.2 8.6 -40.3 10.5C-35.4 12.4 -29.4 16.2 -24.5 19C-19.6 21.8 -15.3 25.3 -10.7 27.2C-6.1 29.1 -1.1 30.2 3.2 30.2C7.5 30.2 10.7 29.2 15 27.4C19.3 25.6 24.5 21.8 28.8 19.6C33.1 17.4 36.6 15.7 40.7 14.3C44.8 13 47 12 53.5 11.5C60 11 75.6 11.5 80 11.5V75H-80Z" fill="#e0e0e0"/></g>
<g><ellipse cx="-17.6" cy="-10.6" rx="63" ry="36" transform="rotate(32 -17.6 -10.6)" fill="url(#gk)" opacity="0.626"/><ellipse cx="19.8" cy="-38.8" rx="45" ry="22.8" transform="rotate(40 19.8 -38.8)" fill="url(#gw)" opacity="0.699"/><ellipse cx="50" cy="-18" rx="12" ry="9" transform="rotate(80 50 -18)" fill="url(#gk)" opacity="0.252"/></g>
<g filter="url(#b3_0)"><ellipse cx="-0.4" cy="59" rx="20" ry="7" transform="rotate(0 -0.4 59)" fill="#8c8c8c"/></g>
<g filter="url(#b2_0)"><ellipse cx="-0.4" cy="57.5" rx="8" ry="4.5" transform="rotate(0 -0.4 57.5)" fill="#1a1a1a"/></g>
</g></g>
<g fill="none" stroke="#2b2b2b" stroke-width="0.7">
<circle cx="0" cy="0" r="54.2"/>
<path d="M-8.6 -53.4C-6.5 -59.5 -3.6 -63.2 0 -63.2C3.6 -63.2 6.5 -59.5 8.4 -53.4"/>
<path d="M-53.7 -1.6C-56.5 -3 -57.6 1 -57.8 6C-58 12 -56.4 18.6 -54.6 18.4C-53.6 18.3 -53.3 17 -52.8 15.5"/>
<path d="M53.7 -1.6C56.5 -3 57.6 1 57.8 6C58 12 56.4 18.6 54.6 18.4C53.6 18.3 53.3 17 52.8 15.5"/>
</g>
<g fill="none" stroke="#1a1a1a" stroke-opacity="0.85" stroke-width="0.8"><circle cx="-16.6" cy="-51.8" r="1.35"/><circle cx="16.4" cy="-51.8" r="1.35"/><circle cx="-29.4" cy="-36.4" r="1.35"/><circle cx="-0.4" cy="-38" r="1.35"/><circle cx="28.8" cy="-36.4" r="1.35"/><circle cx="-43.6" cy="-32.1" r="1.35"/><circle cx="43" cy="-32.1" r="1.35"/><circle cx="-46.6" cy="-19.3" r="1.35"/><circle cx="-19.5" cy="-20.2" r="1.35"/><circle cx="19" cy="-20.2" r="1.35"/><circle cx="46.6" cy="-18.9" r="1.35"/><circle cx="-54.2" cy="0.1" r="1.35"/><circle cx="-38.3" cy="0.1" r="1.35"/><circle cx="-0.4" cy="0.1" r="1.35"/><circle cx="37.7" cy="0.1" r="1.35"/><circle cx="53.6" cy="0.1" r="1.35"/><circle cx="-46.6" cy="18.3" r="1.35"/><circle cx="-19.5" cy="19.8" r="1.35"/><circle cx="19" cy="19.8" r="1.35"/><circle cx="46.6" cy="18.3" r="1.35"/><circle cx="-43.6" cy="31.7" r="1.35"/><circle cx="43" cy="31.7" r="1.35"/><circle cx="-29.4" cy="36" r="1.35"/><circle cx="-0.4" cy="38" r="1.35"/><circle cx="28.8" cy="36" r="1.35"/><circle cx="-0.4" cy="53.8" r="1.35"/></g>
</g>
<g transform="translate(291.4 863.7)">
<g clip-path="url(#hc)"><g filter="url(#jet)"><rect x="-60" y="-60" width="120" height="120" fill="#808080"/>
<g filter="url(#b4_0)"><path d="M-80 12.2C-75.6 12.2 -62 10.6 -53.6 12.2C-45.2 13.8 -38.8 18.8 -29.9 22C-21 25.2 -9.2 30.6 -0.3 31.4C8.6 32.1 14.5 29.1 23.4 26.5C32.3 23.9 43.6 17.4 53 15.6C62.4 13.8 75.5 15.6 80 15.6V75H-80Z" fill="#c2c2c2"/></g>
<g filter="url(#b4_0)"><ellipse cx="-34" cy="30" rx="22" ry="12" transform="rotate(25 -34 30)" fill="#e2e2e2"/><ellipse cx="30" cy="40" rx="22" ry="14" transform="rotate(-30 30 40)" fill="#e2e2e2"/></g>
<g filter="url(#b6_0)"><ellipse cx="-4" cy="-6.5" rx="53" ry="20" transform="rotate(4 -4 -6.5)" fill="#545454"/></g>
<g filter="url(#b5_0)"><ellipse cx="-1.3" cy="-4.6" rx="30.5" ry="16.5" transform="rotate(8 -1.3 -4.6)" fill="#141414"/><ellipse cx="-34" cy="-13" rx="12" ry="6" transform="rotate(10 -34 -13)" fill="#4c4c4c"/><ellipse cx="39" cy="-13" rx="17" ry="12" transform="rotate(-20 39 -13)" fill="#1a1a1a"/></g>
<g filter="url(#b4_0)"><ellipse cx="52" cy="-13" rx="9" ry="20" transform="rotate(-8 52 -13)" fill="#121212"/><ellipse cx="40" cy="-25" rx="12" ry="6" transform="rotate(-25 40 -25)" fill="#333333"/></g>
<g><ellipse cx="5.8" cy="-45.2" rx="33" ry="15" transform="rotate(0 5.8 -45.2)" fill="url(#gw)" opacity="0.440"/></g>
<g filter="url(#b3_0)"><ellipse cx="-3" cy="59" rx="20" ry="7.5" transform="rotate(0 -3 59)" fill="#808080"/></g>
<g filter="url(#b2_0)"><ellipse cx="-2" cy="57.8" rx="8" ry="4.5" transform="rotate(0 -2 57.8)" fill="#0d0d0d"/></g>
</g></g>
<g fill="none" stroke="#2b2b2b" stroke-width="0.7">
<circle cx="0" cy="0" r="54.2"/>
<path d="M-8.6 -53.4C-6.5 -59.5 -3.6 -63.2 0 -63.2C3.6 -63.2 6.5 -59.5 8.4 -53.4"/>
<path d="M-53.7 -1.6C-56.5 -3 -57.6 1 -57.8 6C-58 12 -56.4 18.6 -54.6 18.4C-53.6 18.3 -53.3 17 -52.8 15.5"/>
<path d="M53.7 -1.6C56.5 -3 57.6 1 57.8 6C58 12 56.4 18.6 54.6 18.4C53.6 18.3 53.3 17 52.8 15.5"/>
</g>
<g fill="none" stroke="#1a1a1a" stroke-opacity="0.85" stroke-width="0.8"><circle cx="-16.6" cy="-51.8" r="1.35"/><circle cx="16.4" cy="-51.8" r="1.35"/><circle cx="-29.4" cy="-36.4" r="1.35"/><circle cx="-0.4" cy="-38" r="1.35"/><circle cx="28.8" cy="-36.4" r="1.35"/><circle cx="-43.6" cy="-32.1" r="1.35"/><circle cx="43" cy="-32.1" r="1.35"/><circle cx="-46.6" cy="-19.3" r="1.35"/><circle cx="-19.5" cy="-20.2" r="1.35"/><circle cx="19" cy="-20.2" r="1.35"/><circle cx="46.6" cy="-18.9" r="1.35"/><circle cx="-54.2" cy="0.1" r="1.35"/><circle cx="-38.3" cy="0.1" r="1.35"/><circle cx="-0.4" cy="0.1" r="1.35"/><circle cx="37.7" cy="0.1" r="1.35"/><circle cx="53.6" cy="0.1" r="1.35"/><circle cx="-46.6" cy="18.3" r="1.35"/><circle cx="-19.5" cy="19.8" r="1.35"/><circle cx="19" cy="19.8" r="1.35"/><circle cx="46.6" cy="18.3" r="1.35"/><circle cx="-43.6" cy="31.7" r="1.35"/><circle cx="43" cy="31.7" r="1.35"/><circle cx="-29.4" cy="36" r="1.35"/><circle cx="-0.4" cy="38" r="1.35"/><circle cx="28.8" cy="36" r="1.35"/><circle cx="-0.4" cy="53.8" r="1.35"/></g>
</g>
<g transform="translate(428.3 863)">
<g clip-path="url(#hc)"><g filter="url(#jet)"><rect x="-60" y="-60" width="120" height="120" fill="#888888"/>
<g filter="url(#b4_0)"><path d="M-80 5.6C-75.6 5.6 -60 5.5 -53.5 5.6C-47 5.7 -45.1 5.1 -40.7 6C-36.3 6.9 -31.8 8.3 -26.9 11.2C-22 14.1 -16.4 19.7 -11.1 23.2C-5.8 26.7 -0.2 31.3 4.7 32.3C9.7 33.3 14 31.6 18.6 29.3C23.2 27 28.1 21.7 32.4 18.5C36.7 15.3 40.7 12 44.2 10.2C47.8 8.4 47.7 8 53.7 7.6C59.7 7.2 75.6 7.6 80 7.6V75H-80Z" fill="#e0e0e0"/></g>
<g><ellipse cx="42" cy="-13.7" rx="21" ry="33" transform="rotate(0 42 -13.7)" fill="url(#gw)" opacity="0.204"/></g>
<g filter="url(#b6_5)"><ellipse cx="-3.2" cy="-8.8" rx="31" ry="24" transform="rotate(35 -3.2 -8.8)" fill="#666666"/></g>
<g filter="url(#b5_0)"><ellipse cx="-3.2" cy="-8.8" rx="27" ry="20" transform="rotate(35 -3.2 -8.8)" fill="#141414"/></g>
<g filter="url(#b3_5)"><ellipse cx="17.6" cy="-40.8" rx="25" ry="7.4" transform="rotate(33 17.6 -40.8)" fill="#e6e6e6"/></g>
<g filter="url(#b3_0)"><ellipse cx="-1.2" cy="59" rx="18" ry="6.5" transform="rotate(0 -1.2 59)" fill="#8c8c8c"/></g>
<g filter="url(#b2_0)"><ellipse cx="-1.2" cy="57.5" rx="8" ry="4" transform="rotate(0 -1.2 57.5)" fill="#4c4c4c"/></g>
</g></g>
<g fill="none" stroke="#2b2b2b" stroke-width="0.7">
<circle cx="0" cy="0" r="54.2"/>
<path d="M-8.6 -53.4C-6.5 -59.5 -3.6 -63.2 0 -63.2C3.6 -63.2 6.5 -59.5 8.4 -53.4"/>
<path d="M-53.7 -1.6C-56.5 -3 -57.6 1 -57.8 6C-58 12 -56.4 18.6 -54.6 18.4C-53.6 18.3 -53.3 17 -52.8 15.5"/>
<path d="M53.7 -1.6C56.5 -3 57.6 1 57.8 6C58 12 56.4 18.6 54.6 18.4C53.6 18.3 53.3 17 52.8 15.5"/>
</g>
<g fill="none" stroke="#1a1a1a" stroke-opacity="0.85" stroke-width="0.8"><circle cx="-16.6" cy="-51.8" r="1.35"/><circle cx="16.4" cy="-51.8" r="1.35"/><circle cx="-29.4" cy="-36.4" r="1.35"/><circle cx="-0.4" cy="-38" r="1.35"/><circle cx="28.8" cy="-36.4" r="1.35"/><circle cx="-43.6" cy="-32.1" r="1.35"/><circle cx="43" cy="-32.1" r="1.35"/><circle cx="-46.6" cy="-19.3" r="1.35"/><circle cx="-19.5" cy="-20.2" r="1.35"/><circle cx="19" cy="-20.2" r="1.35"/><circle cx="46.6" cy="-18.9" r="1.35"/><circle cx="-54.2" cy="0.1" r="1.35"/><circle cx="-38.3" cy="0.1" r="1.35"/><circle cx="-0.4" cy="0.1" r="1.35"/><circle cx="37.7" cy="0.1" r="1.35"/><circle cx="53.6" cy="0.1" r="1.35"/><circle cx="-46.6" cy="18.3" r="1.35"/><circle cx="-19.5" cy="19.8" r="1.35"/><circle cx="19" cy="19.8" r="1.35"/><circle cx="46.6" cy="18.3" r="1.35"/><circle cx="-43.6" cy="31.7" r="1.35"/><circle cx="43" cy="31.7" r="1.35"/><circle cx="-29.4" cy="36" r="1.35"/><circle cx="-0.4" cy="38" r="1.35"/><circle cx="28.8" cy="36" r="1.35"/><circle cx="-0.4" cy="53.8" r="1.35"/></g>
</g>
<g transform="translate(564.4 863.7)">
<g clip-path="url(#hc)"><g filter="url(#jet)"><rect x="-60" y="-60" width="120" height="120" fill="#808080"/>
<g filter="url(#b4_0)"><path d="M-80 9.3C-75.8 9.3 -63 7.4 -54.6 9.3C-46.2 11.2 -39 16.5 -29.9 20.6C-20.8 24.7 -9.5 33.2 -0.3 34C8.9 34.8 16.4 29.6 25.4 25.6C34.4 21.7 44.9 12.9 54 10.3C63.1 7.8 75.7 10.3 80 10.3V75H-80Z" fill="#a3a3a3"/></g>
<g filter="url(#b4_0)"><ellipse cx="-35.8" cy="31" rx="20" ry="12.5" transform="rotate(30 -35.8 31)" fill="#e2e2e2"/><ellipse cx="33.3" cy="37" rx="22" ry="15" transform="rotate(-35 33.3 37)" fill="#e2e2e2"/></g>
<g filter="url(#b6_0)"><ellipse cx="-6" cy="-5.5" rx="42" ry="21" transform="rotate(15 -6 -5.5)" fill="#5c5c5c"/></g>
<g filter="url(#b5_0)"><ellipse cx="-4.2" cy="-2.6" rx="28" ry="14.5" transform="rotate(20 -4.2 -2.6)" fill="#141414"/><ellipse cx="38" cy="-12" rx="11" ry="8" transform="rotate(0 38 -12)" fill="#333333"/></g>
<g filter="url(#b4_0)"><ellipse cx="53.5" cy="-15.4" rx="9" ry="19" transform="rotate(-8 53.5 -15.4)" fill="#0a0a0a"/></g>
<g><ellipse cx="7.6" cy="-45.3" rx="42" ry="16.2" transform="rotate(0 7.6 -45.3)" fill="url(#gw)" opacity="0.620"/></g>
<g filter="url(#b3_0)"><ellipse cx="-4.2" cy="59" rx="20" ry="7.5" transform="rotate(0 -4.2 59)" fill="#737373"/></g>
<g filter="url(#b2_0)"><ellipse cx="-5" cy="57.5" rx="10" ry="4.5" transform="rotate(0 -5 57.5)" fill="#0d0d0d"/></g>
</g></g>
<g fill="none" stroke="#2b2b2b" stroke-width="0.7">
<circle cx="0" cy="0" r="54.2"/>
<path d="M-8.6 -53.4C-6.5 -59.5 -3.6 -63.2 0 -63.2C3.6 -63.2 6.5 -59.5 8.4 -53.4"/>
<path d="M-53.7 -1.6C-56.5 -3 -57.6 1 -57.8 6C-58 12 -56.4 18.6 -54.6 18.4C-53.6 18.3 -53.3 17 -52.8 15.5"/>
<path d="M53.7 -1.6C56.5 -3 57.6 1 57.8 6C58 12 56.4 18.6 54.6 18.4C53.6 18.3 53.3 17 52.8 15.5"/>
</g>
<g fill="none" stroke="#1a1a1a" stroke-opacity="0.85" stroke-width="0.8"><circle cx="-16.6" cy="-51.8" r="1.35"/><circle cx="16.4" cy="-51.8" r="1.35"/><circle cx="-29.4" cy="-36.4" r="1.35"/><circle cx="-0.4" cy="-38" r="1.35"/><circle cx="28.8" cy="-36.4" r="1.35"/><circle cx="-43.6" cy="-32.1" r="1.35"/><circle cx="43" cy="-32.1" r="1.35"/><circle cx="-46.6" cy="-19.3" r="1.35"/><circle cx="-19.5" cy="-20.2" r="1.35"/><circle cx="19" cy="-20.2" r="1.35"/><circle cx="46.6" cy="-18.9" r="1.35"/><circle cx="-54.2" cy="0.1" r="1.35"/><circle cx="-38.3" cy="0.1" r="1.35"/><circle cx="-0.4" cy="0.1" r="1.35"/><circle cx="37.7" cy="0.1" r="1.35"/><circle cx="53.6" cy="0.1" r="1.35"/><circle cx="-46.6" cy="18.3" r="1.35"/><circle cx="-19.5" cy="19.8" r="1.35"/><circle cx="19" cy="19.8" r="1.35"/><circle cx="46.6" cy="18.3" r="1.35"/><circle cx="-43.6" cy="31.7" r="1.35"/><circle cx="43" cy="31.7" r="1.35"/><circle cx="-29.4" cy="36" r="1.35"/><circle cx="-0.4" cy="38" r="1.35"/><circle cx="28.8" cy="36" r="1.35"/><circle cx="-0.4" cy="53.8" r="1.35"/></g>
</g>
<rect x="655.3" y="799" width="10.1" height="129.4" fill="url(#cbg)" stroke="#222" stroke-width="0.5"/>
<path d="M655.3 831h1.3M664.1 831h1.3M655.3 863.7h1.3M664.1 863.7h1.3M655.3 896.2h1.3M664.1 896.2h1.3" stroke="#222" stroke-width="0.6"/>
<text x="670" y="804.5" class="cb">4</text>
<text x="670" y="833.8" class="cb">2</text>
<text x="670" y="866.4" class="cb">0</text>
<text x="667.6" y="897.6" class="cb">-2</text>
<text x="667.6" y="928.4" class="cb">-4</text>
<text transform="translate(8.3 931.7) scale(0.955 1)" class="bot">300-500ms</text>
<text transform="translate(127.6 971.5) scale(0.955 1)" class="bot">HFLC</text>
<text transform="translate(273.9 971.5) scale(0.955 1)" class="bot">LFLC</text>
<text transform="translate(408.5 971.5) scale(0.955 1)" class="bot">HFMC</text>
<text transform="translate(534 971.5) scale(0.955 1)" class="bot">LFMC</text>
</svg>
</body></html>
